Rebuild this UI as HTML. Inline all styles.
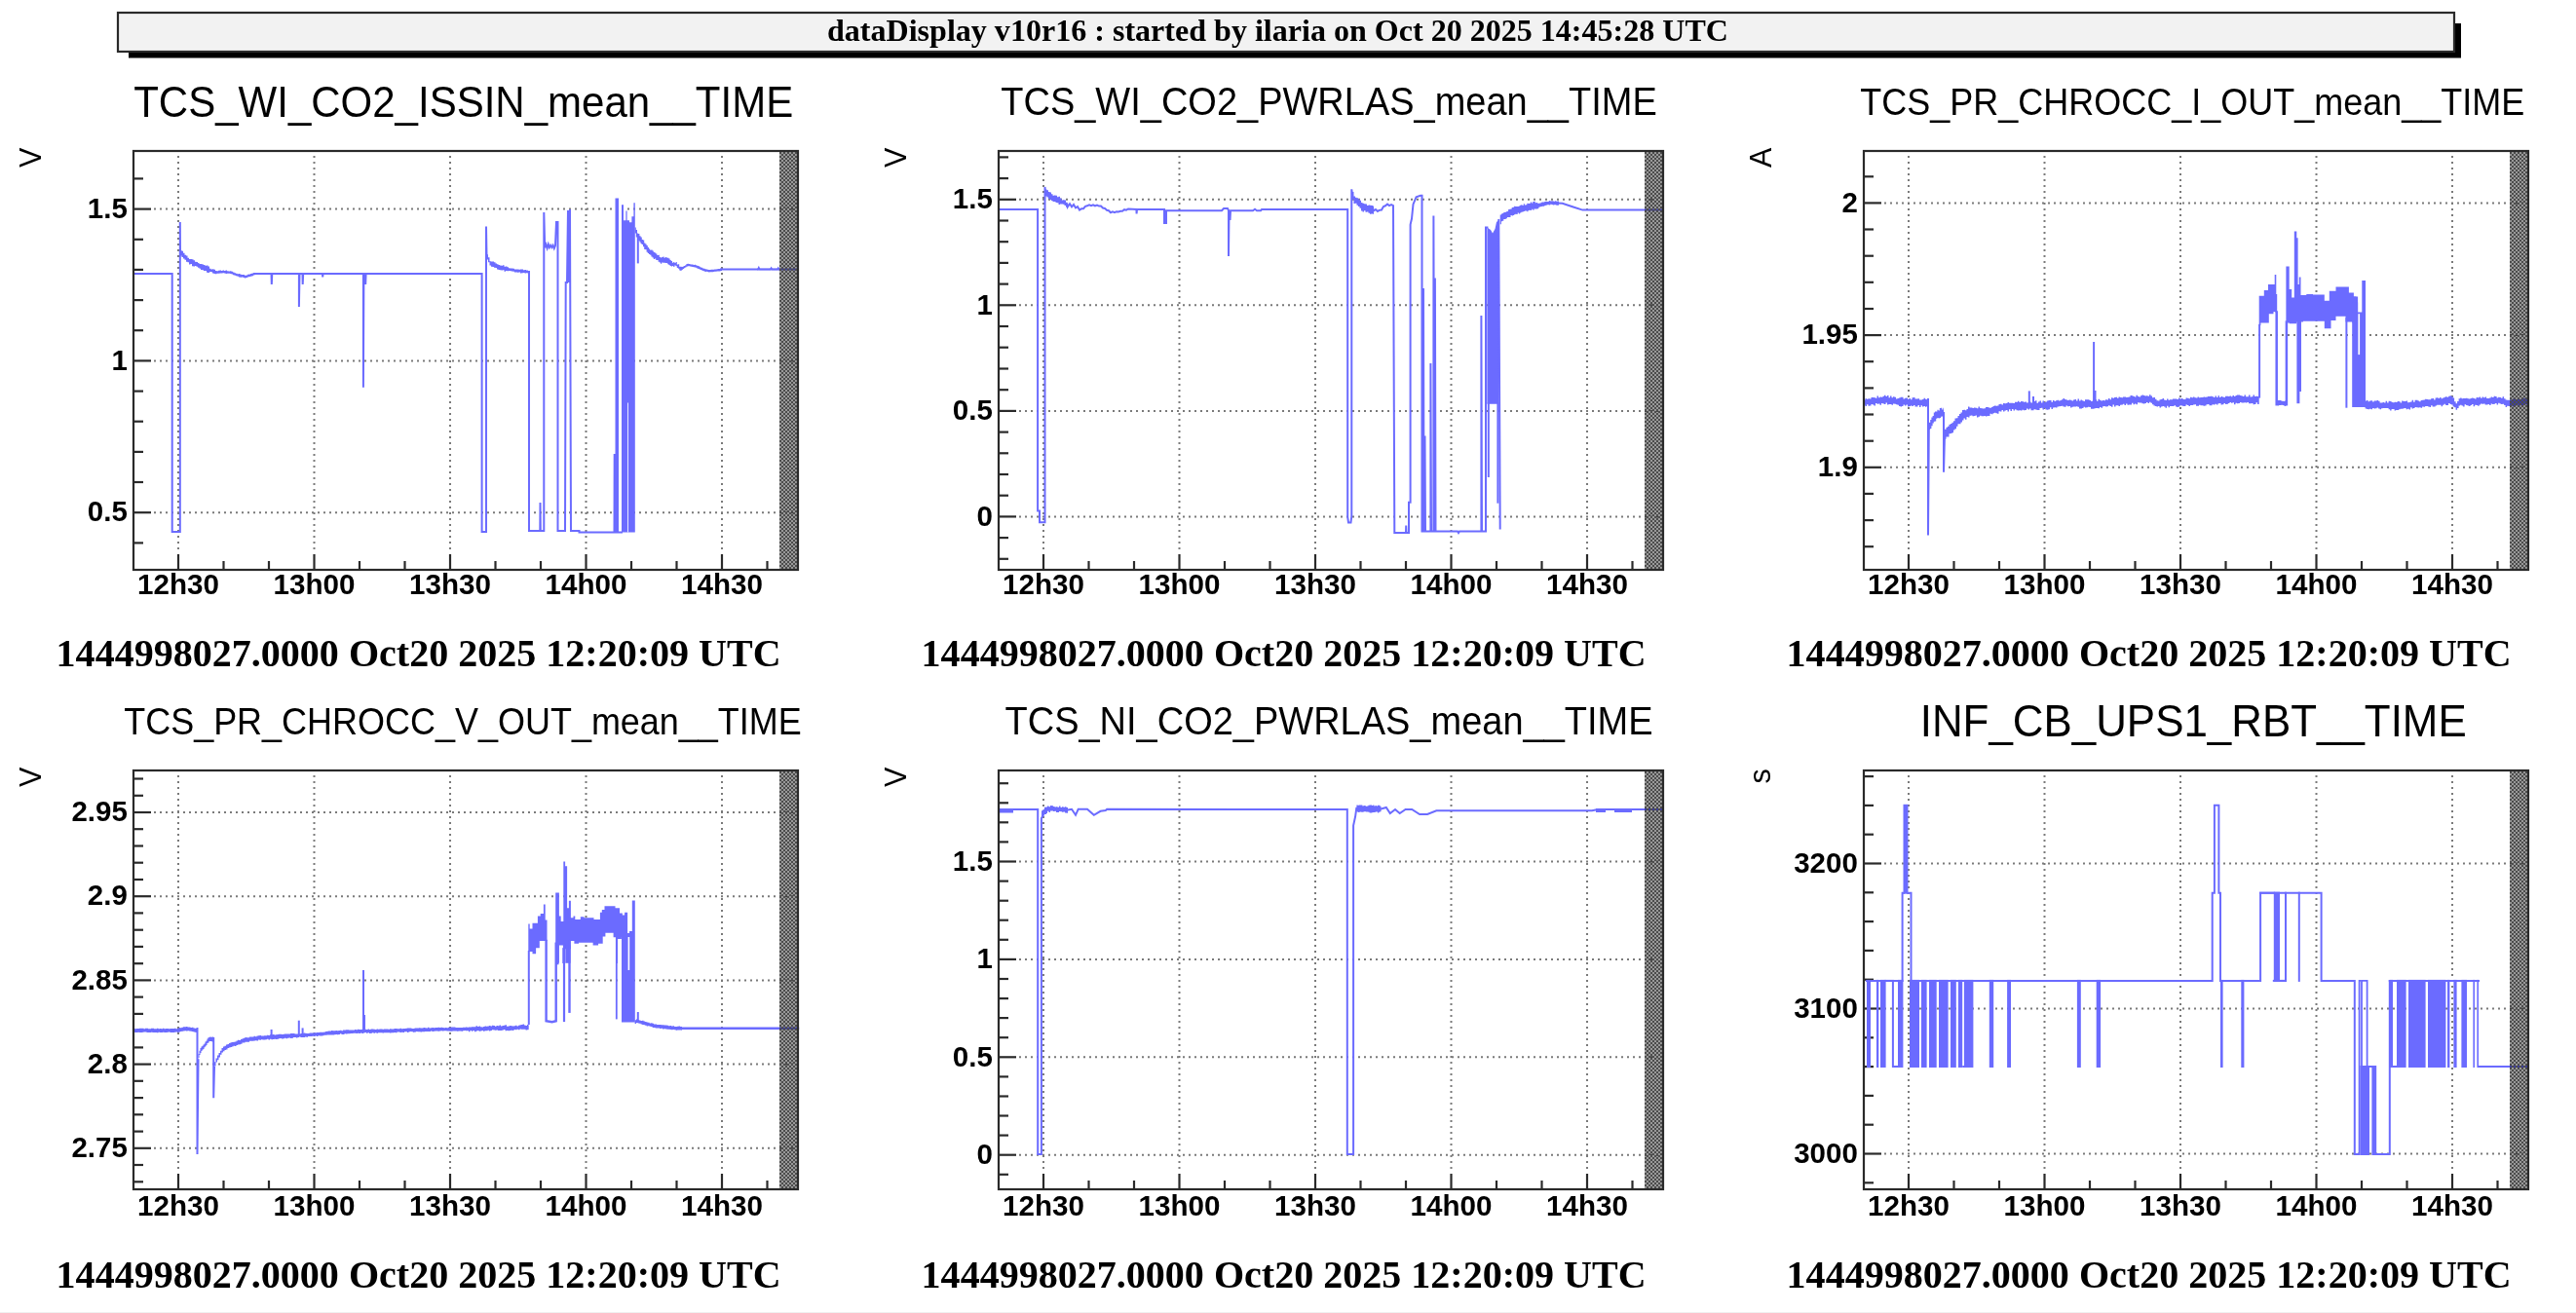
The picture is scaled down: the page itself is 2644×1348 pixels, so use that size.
<!DOCTYPE html><html><head><meta charset="utf-8"><style>html,body{margin:0;padding:0;background:#fff;}svg{display:block;filter:blur(0.45px)}</style></head><body>
<svg width="2644" height="1348" viewBox="0 0 2644 1348">
<defs><pattern id="hatch" width="4" height="4" patternUnits="userSpaceOnUse"><rect width="4" height="4" fill="rgba(0,0,0,0.40)"/><rect x="0" y="0" width="2" height="2" fill="#4c4c4c"/><rect x="2" y="2" width="2" height="2" fill="#4c4c4c"/></pattern></defs>
<rect width="2644" height="1348" fill="#fff"/><rect x="0" y="1347" width="2644" height="1" fill="#f0f0f0"/>
<rect x="132" y="24" width="2394" height="35.5" fill="#000"/>
<rect x="121" y="13" width="2398" height="40" fill="#f2f2f2" stroke="#2a2a2a" stroke-width="2.2"/>
<text x="1311.5" y="41.5" text-anchor="middle" textLength="925" lengthAdjust="spacingAndGlyphs" font-family="Liberation Serif" font-weight="bold" font-size="31.9" fill="#000">dataDisplay v10r16 : started by ilaria on Oct 20 2025 14:45:28 UTC</text>
<line x1="183.0" y1="160" x2="183.0" y2="568" stroke="#7a7a7a" stroke-width="2" stroke-dasharray="2 4"/>
<line x1="322.5" y1="160" x2="322.5" y2="568" stroke="#7a7a7a" stroke-width="2" stroke-dasharray="2 4"/>
<line x1="462.0" y1="160" x2="462.0" y2="568" stroke="#7a7a7a" stroke-width="2" stroke-dasharray="2 4"/>
<line x1="601.5" y1="160" x2="601.5" y2="568" stroke="#7a7a7a" stroke-width="2" stroke-dasharray="2 4"/>
<line x1="741.0" y1="160" x2="741.0" y2="568" stroke="#7a7a7a" stroke-width="2" stroke-dasharray="2 4"/>
<line x1="158" y1="214.6" x2="819" y2="214.6" stroke="#7a7a7a" stroke-width="2" stroke-dasharray="2 4"/>
<line x1="158" y1="370.4" x2="819" y2="370.4" stroke="#7a7a7a" stroke-width="2" stroke-dasharray="2 4"/>
<line x1="158" y1="526.2" x2="819" y2="526.2" stroke="#7a7a7a" stroke-width="2" stroke-dasharray="2 4"/>
<line x1="183.0" y1="585" x2="183.0" y2="569" stroke="#2a2a2a" stroke-width="2.2"/>
<line x1="229.5" y1="585" x2="229.5" y2="576" stroke="#2a2a2a" stroke-width="2.2"/>
<line x1="276.0" y1="585" x2="276.0" y2="576" stroke="#2a2a2a" stroke-width="2.2"/>
<line x1="322.5" y1="585" x2="322.5" y2="569" stroke="#2a2a2a" stroke-width="2.2"/>
<line x1="369.0" y1="585" x2="369.0" y2="576" stroke="#2a2a2a" stroke-width="2.2"/>
<line x1="415.5" y1="585" x2="415.5" y2="576" stroke="#2a2a2a" stroke-width="2.2"/>
<line x1="462.0" y1="585" x2="462.0" y2="569" stroke="#2a2a2a" stroke-width="2.2"/>
<line x1="508.5" y1="585" x2="508.5" y2="576" stroke="#2a2a2a" stroke-width="2.2"/>
<line x1="555.0" y1="585" x2="555.0" y2="576" stroke="#2a2a2a" stroke-width="2.2"/>
<line x1="601.5" y1="585" x2="601.5" y2="569" stroke="#2a2a2a" stroke-width="2.2"/>
<line x1="648.0" y1="585" x2="648.0" y2="576" stroke="#2a2a2a" stroke-width="2.2"/>
<line x1="694.5" y1="585" x2="694.5" y2="576" stroke="#2a2a2a" stroke-width="2.2"/>
<line x1="741.0" y1="585" x2="741.0" y2="569" stroke="#2a2a2a" stroke-width="2.2"/>
<line x1="787.5" y1="585" x2="787.5" y2="576" stroke="#2a2a2a" stroke-width="2.2"/>
<line x1="137" y1="557.4" x2="147" y2="557.4" stroke="#2a2a2a" stroke-width="2.2"/>
<line x1="137" y1="526.2" x2="155" y2="526.2" stroke="#2a2a2a" stroke-width="2.2"/>
<line x1="137" y1="495.0" x2="147" y2="495.0" stroke="#2a2a2a" stroke-width="2.2"/>
<line x1="137" y1="463.9" x2="147" y2="463.9" stroke="#2a2a2a" stroke-width="2.2"/>
<line x1="137" y1="432.7" x2="147" y2="432.7" stroke="#2a2a2a" stroke-width="2.2"/>
<line x1="137" y1="401.6" x2="147" y2="401.6" stroke="#2a2a2a" stroke-width="2.2"/>
<line x1="137" y1="370.4" x2="155" y2="370.4" stroke="#2a2a2a" stroke-width="2.2"/>
<line x1="137" y1="339.2" x2="147" y2="339.2" stroke="#2a2a2a" stroke-width="2.2"/>
<line x1="137" y1="308.1" x2="147" y2="308.1" stroke="#2a2a2a" stroke-width="2.2"/>
<line x1="137" y1="276.9" x2="147" y2="276.9" stroke="#2a2a2a" stroke-width="2.2"/>
<line x1="137" y1="245.8" x2="147" y2="245.8" stroke="#2a2a2a" stroke-width="2.2"/>
<line x1="137" y1="214.6" x2="155" y2="214.6" stroke="#2a2a2a" stroke-width="2.2"/>
<line x1="137" y1="183.4" x2="147" y2="183.4" stroke="#2a2a2a" stroke-width="2.2"/>
<text x="130.8" y="223.8" text-anchor="end" font-family="Liberation Sans" font-weight="bold" font-size="29.5" fill="#000">1.5</text>
<text x="130.8" y="379.6" text-anchor="end" font-family="Liberation Sans" font-weight="bold" font-size="29.5" fill="#000">1</text>
<text x="130.8" y="535.4" text-anchor="end" font-family="Liberation Sans" font-weight="bold" font-size="29.5" fill="#000">0.5</text>
<text x="183.0" y="610" text-anchor="middle" font-family="Liberation Sans" font-weight="bold" font-size="29.6" fill="#000">12h30</text>
<text x="322.5" y="610" text-anchor="middle" font-family="Liberation Sans" font-weight="bold" font-size="29.6" fill="#000">13h00</text>
<text x="462.0" y="610" text-anchor="middle" font-family="Liberation Sans" font-weight="bold" font-size="29.6" fill="#000">13h30</text>
<text x="601.5" y="610" text-anchor="middle" font-family="Liberation Sans" font-weight="bold" font-size="29.6" fill="#000">14h00</text>
<text x="741.0" y="610" text-anchor="middle" font-family="Liberation Sans" font-weight="bold" font-size="29.6" fill="#000">14h30</text>
<text transform="translate(41.8,151.7) rotate(-90)" text-anchor="end" font-family="Liberation Sans" font-size="30.5" fill="#000">V</text>
<text x="475.7" y="119.5" text-anchor="middle" textLength="677" lengthAdjust="spacingAndGlyphs" font-family="Liberation Sans" font-size="44.31" fill="#000">TCS_WI_CO2_ISSIN_mean__TIME</text>
<text x="429.6" y="684" text-anchor="middle" textLength="744" lengthAdjust="spacingAndGlyphs" font-family="Liberation Serif" font-weight="bold" font-size="41" fill="#000">1444998027.0000 Oct20 2025 12:20:09 UTC</text>
<line x1="1071.0" y1="160" x2="1071.0" y2="568" stroke="#7a7a7a" stroke-width="2" stroke-dasharray="2 4"/>
<line x1="1210.5" y1="160" x2="1210.5" y2="568" stroke="#7a7a7a" stroke-width="2" stroke-dasharray="2 4"/>
<line x1="1350.0" y1="160" x2="1350.0" y2="568" stroke="#7a7a7a" stroke-width="2" stroke-dasharray="2 4"/>
<line x1="1489.5" y1="160" x2="1489.5" y2="568" stroke="#7a7a7a" stroke-width="2" stroke-dasharray="2 4"/>
<line x1="1629.0" y1="160" x2="1629.0" y2="568" stroke="#7a7a7a" stroke-width="2" stroke-dasharray="2 4"/>
<line x1="1046" y1="204.8" x2="1707" y2="204.8" stroke="#7a7a7a" stroke-width="2" stroke-dasharray="2 4"/>
<line x1="1046" y1="313.3" x2="1707" y2="313.3" stroke="#7a7a7a" stroke-width="2" stroke-dasharray="2 4"/>
<line x1="1046" y1="421.9" x2="1707" y2="421.9" stroke="#7a7a7a" stroke-width="2" stroke-dasharray="2 4"/>
<line x1="1046" y1="530.4" x2="1707" y2="530.4" stroke="#7a7a7a" stroke-width="2" stroke-dasharray="2 4"/>
<line x1="1071.0" y1="585" x2="1071.0" y2="569" stroke="#2a2a2a" stroke-width="2.2"/>
<line x1="1117.5" y1="585" x2="1117.5" y2="576" stroke="#2a2a2a" stroke-width="2.2"/>
<line x1="1164.0" y1="585" x2="1164.0" y2="576" stroke="#2a2a2a" stroke-width="2.2"/>
<line x1="1210.5" y1="585" x2="1210.5" y2="569" stroke="#2a2a2a" stroke-width="2.2"/>
<line x1="1257.0" y1="585" x2="1257.0" y2="576" stroke="#2a2a2a" stroke-width="2.2"/>
<line x1="1303.5" y1="585" x2="1303.5" y2="576" stroke="#2a2a2a" stroke-width="2.2"/>
<line x1="1350.0" y1="585" x2="1350.0" y2="569" stroke="#2a2a2a" stroke-width="2.2"/>
<line x1="1396.5" y1="585" x2="1396.5" y2="576" stroke="#2a2a2a" stroke-width="2.2"/>
<line x1="1443.0" y1="585" x2="1443.0" y2="576" stroke="#2a2a2a" stroke-width="2.2"/>
<line x1="1489.5" y1="585" x2="1489.5" y2="569" stroke="#2a2a2a" stroke-width="2.2"/>
<line x1="1536.0" y1="585" x2="1536.0" y2="576" stroke="#2a2a2a" stroke-width="2.2"/>
<line x1="1582.5" y1="585" x2="1582.5" y2="576" stroke="#2a2a2a" stroke-width="2.2"/>
<line x1="1629.0" y1="585" x2="1629.0" y2="569" stroke="#2a2a2a" stroke-width="2.2"/>
<line x1="1675.5" y1="585" x2="1675.5" y2="576" stroke="#2a2a2a" stroke-width="2.2"/>
<line x1="1025" y1="573.8" x2="1035" y2="573.8" stroke="#2a2a2a" stroke-width="2.2"/>
<line x1="1025" y1="552.1" x2="1035" y2="552.1" stroke="#2a2a2a" stroke-width="2.2"/>
<line x1="1025" y1="530.4" x2="1043" y2="530.4" stroke="#2a2a2a" stroke-width="2.2"/>
<line x1="1025" y1="508.7" x2="1035" y2="508.7" stroke="#2a2a2a" stroke-width="2.2"/>
<line x1="1025" y1="487.0" x2="1035" y2="487.0" stroke="#2a2a2a" stroke-width="2.2"/>
<line x1="1025" y1="465.3" x2="1035" y2="465.3" stroke="#2a2a2a" stroke-width="2.2"/>
<line x1="1025" y1="443.6" x2="1035" y2="443.6" stroke="#2a2a2a" stroke-width="2.2"/>
<line x1="1025" y1="421.9" x2="1043" y2="421.9" stroke="#2a2a2a" stroke-width="2.2"/>
<line x1="1025" y1="400.2" x2="1035" y2="400.2" stroke="#2a2a2a" stroke-width="2.2"/>
<line x1="1025" y1="378.5" x2="1035" y2="378.5" stroke="#2a2a2a" stroke-width="2.2"/>
<line x1="1025" y1="356.7" x2="1035" y2="356.7" stroke="#2a2a2a" stroke-width="2.2"/>
<line x1="1025" y1="335.0" x2="1035" y2="335.0" stroke="#2a2a2a" stroke-width="2.2"/>
<line x1="1025" y1="313.3" x2="1043" y2="313.3" stroke="#2a2a2a" stroke-width="2.2"/>
<line x1="1025" y1="291.6" x2="1035" y2="291.6" stroke="#2a2a2a" stroke-width="2.2"/>
<line x1="1025" y1="269.9" x2="1035" y2="269.9" stroke="#2a2a2a" stroke-width="2.2"/>
<line x1="1025" y1="248.2" x2="1035" y2="248.2" stroke="#2a2a2a" stroke-width="2.2"/>
<line x1="1025" y1="226.5" x2="1035" y2="226.5" stroke="#2a2a2a" stroke-width="2.2"/>
<line x1="1025" y1="204.8" x2="1043" y2="204.8" stroke="#2a2a2a" stroke-width="2.2"/>
<line x1="1025" y1="183.1" x2="1035" y2="183.1" stroke="#2a2a2a" stroke-width="2.2"/>
<line x1="1025" y1="161.4" x2="1035" y2="161.4" stroke="#2a2a2a" stroke-width="2.2"/>
<text x="1018.8" y="214.0" text-anchor="end" font-family="Liberation Sans" font-weight="bold" font-size="29.5" fill="#000">1.5</text>
<text x="1018.8" y="322.5" text-anchor="end" font-family="Liberation Sans" font-weight="bold" font-size="29.5" fill="#000">1</text>
<text x="1018.8" y="431.1" text-anchor="end" font-family="Liberation Sans" font-weight="bold" font-size="29.5" fill="#000">0.5</text>
<text x="1018.8" y="539.6" text-anchor="end" font-family="Liberation Sans" font-weight="bold" font-size="29.5" fill="#000">0</text>
<text x="1071.0" y="610" text-anchor="middle" font-family="Liberation Sans" font-weight="bold" font-size="29.6" fill="#000">12h30</text>
<text x="1210.5" y="610" text-anchor="middle" font-family="Liberation Sans" font-weight="bold" font-size="29.6" fill="#000">13h00</text>
<text x="1350.0" y="610" text-anchor="middle" font-family="Liberation Sans" font-weight="bold" font-size="29.6" fill="#000">13h30</text>
<text x="1489.5" y="610" text-anchor="middle" font-family="Liberation Sans" font-weight="bold" font-size="29.6" fill="#000">14h00</text>
<text x="1629.0" y="610" text-anchor="middle" font-family="Liberation Sans" font-weight="bold" font-size="29.6" fill="#000">14h30</text>
<text transform="translate(929.8,151.7) rotate(-90)" text-anchor="end" font-family="Liberation Sans" font-size="30.5" fill="#000">V</text>
<text x="1364.0" y="117.6" text-anchor="middle" textLength="673.5" lengthAdjust="spacingAndGlyphs" font-family="Liberation Sans" font-size="40.07" fill="#000">TCS_WI_CO2_PWRLAS_mean__TIME</text>
<text x="1317.6" y="684" text-anchor="middle" textLength="744" lengthAdjust="spacingAndGlyphs" font-family="Liberation Serif" font-weight="bold" font-size="41" fill="#000">1444998027.0000 Oct20 2025 12:20:09 UTC</text>
<line x1="1959.0" y1="160" x2="1959.0" y2="568" stroke="#7a7a7a" stroke-width="2" stroke-dasharray="2 4"/>
<line x1="2098.5" y1="160" x2="2098.5" y2="568" stroke="#7a7a7a" stroke-width="2" stroke-dasharray="2 4"/>
<line x1="2238.0" y1="160" x2="2238.0" y2="568" stroke="#7a7a7a" stroke-width="2" stroke-dasharray="2 4"/>
<line x1="2377.5" y1="160" x2="2377.5" y2="568" stroke="#7a7a7a" stroke-width="2" stroke-dasharray="2 4"/>
<line x1="2517.0" y1="160" x2="2517.0" y2="568" stroke="#7a7a7a" stroke-width="2" stroke-dasharray="2 4"/>
<line x1="1934" y1="208.4" x2="2595" y2="208.4" stroke="#7a7a7a" stroke-width="2" stroke-dasharray="2 4"/>
<line x1="1934" y1="344.1" x2="2595" y2="344.1" stroke="#7a7a7a" stroke-width="2" stroke-dasharray="2 4"/>
<line x1="1934" y1="479.8" x2="2595" y2="479.8" stroke="#7a7a7a" stroke-width="2" stroke-dasharray="2 4"/>
<line x1="1959.0" y1="585" x2="1959.0" y2="569" stroke="#2a2a2a" stroke-width="2.2"/>
<line x1="2005.5" y1="585" x2="2005.5" y2="576" stroke="#2a2a2a" stroke-width="2.2"/>
<line x1="2052.0" y1="585" x2="2052.0" y2="576" stroke="#2a2a2a" stroke-width="2.2"/>
<line x1="2098.5" y1="585" x2="2098.5" y2="569" stroke="#2a2a2a" stroke-width="2.2"/>
<line x1="2145.0" y1="585" x2="2145.0" y2="576" stroke="#2a2a2a" stroke-width="2.2"/>
<line x1="2191.5" y1="585" x2="2191.5" y2="576" stroke="#2a2a2a" stroke-width="2.2"/>
<line x1="2238.0" y1="585" x2="2238.0" y2="569" stroke="#2a2a2a" stroke-width="2.2"/>
<line x1="2284.5" y1="585" x2="2284.5" y2="576" stroke="#2a2a2a" stroke-width="2.2"/>
<line x1="2331.0" y1="585" x2="2331.0" y2="576" stroke="#2a2a2a" stroke-width="2.2"/>
<line x1="2377.5" y1="585" x2="2377.5" y2="569" stroke="#2a2a2a" stroke-width="2.2"/>
<line x1="2424.0" y1="585" x2="2424.0" y2="576" stroke="#2a2a2a" stroke-width="2.2"/>
<line x1="2470.5" y1="585" x2="2470.5" y2="576" stroke="#2a2a2a" stroke-width="2.2"/>
<line x1="2517.0" y1="585" x2="2517.0" y2="569" stroke="#2a2a2a" stroke-width="2.2"/>
<line x1="2563.5" y1="585" x2="2563.5" y2="576" stroke="#2a2a2a" stroke-width="2.2"/>
<line x1="1913" y1="561.2" x2="1923" y2="561.2" stroke="#2a2a2a" stroke-width="2.2"/>
<line x1="1913" y1="534.1" x2="1923" y2="534.1" stroke="#2a2a2a" stroke-width="2.2"/>
<line x1="1913" y1="506.9" x2="1923" y2="506.9" stroke="#2a2a2a" stroke-width="2.2"/>
<line x1="1913" y1="479.8" x2="1931" y2="479.8" stroke="#2a2a2a" stroke-width="2.2"/>
<line x1="1913" y1="452.7" x2="1923" y2="452.7" stroke="#2a2a2a" stroke-width="2.2"/>
<line x1="1913" y1="425.5" x2="1923" y2="425.5" stroke="#2a2a2a" stroke-width="2.2"/>
<line x1="1913" y1="398.4" x2="1923" y2="398.4" stroke="#2a2a2a" stroke-width="2.2"/>
<line x1="1913" y1="371.2" x2="1923" y2="371.2" stroke="#2a2a2a" stroke-width="2.2"/>
<line x1="1913" y1="344.1" x2="1931" y2="344.1" stroke="#2a2a2a" stroke-width="2.2"/>
<line x1="1913" y1="317.0" x2="1923" y2="317.0" stroke="#2a2a2a" stroke-width="2.2"/>
<line x1="1913" y1="289.8" x2="1923" y2="289.8" stroke="#2a2a2a" stroke-width="2.2"/>
<line x1="1913" y1="262.7" x2="1923" y2="262.7" stroke="#2a2a2a" stroke-width="2.2"/>
<line x1="1913" y1="235.5" x2="1923" y2="235.5" stroke="#2a2a2a" stroke-width="2.2"/>
<line x1="1913" y1="208.4" x2="1931" y2="208.4" stroke="#2a2a2a" stroke-width="2.2"/>
<line x1="1913" y1="181.3" x2="1923" y2="181.3" stroke="#2a2a2a" stroke-width="2.2"/>
<text x="1906.8" y="217.6" text-anchor="end" font-family="Liberation Sans" font-weight="bold" font-size="29.5" fill="#000">2</text>
<text x="1906.8" y="353.3" text-anchor="end" font-family="Liberation Sans" font-weight="bold" font-size="29.5" fill="#000">1.95</text>
<text x="1906.8" y="489.0" text-anchor="end" font-family="Liberation Sans" font-weight="bold" font-size="29.5" fill="#000">1.9</text>
<text x="1959.0" y="610" text-anchor="middle" font-family="Liberation Sans" font-weight="bold" font-size="29.6" fill="#000">12h30</text>
<text x="2098.5" y="610" text-anchor="middle" font-family="Liberation Sans" font-weight="bold" font-size="29.6" fill="#000">13h00</text>
<text x="2238.0" y="610" text-anchor="middle" font-family="Liberation Sans" font-weight="bold" font-size="29.6" fill="#000">13h30</text>
<text x="2377.5" y="610" text-anchor="middle" font-family="Liberation Sans" font-weight="bold" font-size="29.6" fill="#000">14h00</text>
<text x="2517.0" y="610" text-anchor="middle" font-family="Liberation Sans" font-weight="bold" font-size="29.6" fill="#000">14h30</text>
<text transform="translate(1817.8,151.7) rotate(-90)" text-anchor="end" font-family="Liberation Sans" font-size="30.5" fill="#000">A</text>
<text x="2250.2" y="117.6" text-anchor="middle" textLength="682" lengthAdjust="spacingAndGlyphs" font-family="Liberation Sans" font-size="37.95" fill="#000">TCS_PR_CHROCC_I_OUT_mean__TIME</text>
<text x="2205.6" y="684" text-anchor="middle" textLength="744" lengthAdjust="spacingAndGlyphs" font-family="Liberation Serif" font-weight="bold" font-size="41" fill="#000">1444998027.0000 Oct20 2025 12:20:09 UTC</text>
<line x1="183.0" y1="796" x2="183.0" y2="1204" stroke="#7a7a7a" stroke-width="2" stroke-dasharray="2 4"/>
<line x1="322.5" y1="796" x2="322.5" y2="1204" stroke="#7a7a7a" stroke-width="2" stroke-dasharray="2 4"/>
<line x1="462.0" y1="796" x2="462.0" y2="1204" stroke="#7a7a7a" stroke-width="2" stroke-dasharray="2 4"/>
<line x1="601.5" y1="796" x2="601.5" y2="1204" stroke="#7a7a7a" stroke-width="2" stroke-dasharray="2 4"/>
<line x1="741.0" y1="796" x2="741.0" y2="1204" stroke="#7a7a7a" stroke-width="2" stroke-dasharray="2 4"/>
<line x1="158" y1="834.0" x2="819" y2="834.0" stroke="#7a7a7a" stroke-width="2" stroke-dasharray="2 4"/>
<line x1="158" y1="920.2" x2="819" y2="920.2" stroke="#7a7a7a" stroke-width="2" stroke-dasharray="2 4"/>
<line x1="158" y1="1006.4" x2="819" y2="1006.4" stroke="#7a7a7a" stroke-width="2" stroke-dasharray="2 4"/>
<line x1="158" y1="1092.6" x2="819" y2="1092.6" stroke="#7a7a7a" stroke-width="2" stroke-dasharray="2 4"/>
<line x1="158" y1="1178.8" x2="819" y2="1178.8" stroke="#7a7a7a" stroke-width="2" stroke-dasharray="2 4"/>
<line x1="183.0" y1="1221" x2="183.0" y2="1205" stroke="#2a2a2a" stroke-width="2.2"/>
<line x1="229.5" y1="1221" x2="229.5" y2="1212" stroke="#2a2a2a" stroke-width="2.2"/>
<line x1="276.0" y1="1221" x2="276.0" y2="1212" stroke="#2a2a2a" stroke-width="2.2"/>
<line x1="322.5" y1="1221" x2="322.5" y2="1205" stroke="#2a2a2a" stroke-width="2.2"/>
<line x1="369.0" y1="1221" x2="369.0" y2="1212" stroke="#2a2a2a" stroke-width="2.2"/>
<line x1="415.5" y1="1221" x2="415.5" y2="1212" stroke="#2a2a2a" stroke-width="2.2"/>
<line x1="462.0" y1="1221" x2="462.0" y2="1205" stroke="#2a2a2a" stroke-width="2.2"/>
<line x1="508.5" y1="1221" x2="508.5" y2="1212" stroke="#2a2a2a" stroke-width="2.2"/>
<line x1="555.0" y1="1221" x2="555.0" y2="1212" stroke="#2a2a2a" stroke-width="2.2"/>
<line x1="601.5" y1="1221" x2="601.5" y2="1205" stroke="#2a2a2a" stroke-width="2.2"/>
<line x1="648.0" y1="1221" x2="648.0" y2="1212" stroke="#2a2a2a" stroke-width="2.2"/>
<line x1="694.5" y1="1221" x2="694.5" y2="1212" stroke="#2a2a2a" stroke-width="2.2"/>
<line x1="741.0" y1="1221" x2="741.0" y2="1205" stroke="#2a2a2a" stroke-width="2.2"/>
<line x1="787.5" y1="1221" x2="787.5" y2="1212" stroke="#2a2a2a" stroke-width="2.2"/>
<line x1="137" y1="1213.3" x2="147" y2="1213.3" stroke="#2a2a2a" stroke-width="2.2"/>
<line x1="137" y1="1196.0" x2="147" y2="1196.0" stroke="#2a2a2a" stroke-width="2.2"/>
<line x1="137" y1="1178.8" x2="155" y2="1178.8" stroke="#2a2a2a" stroke-width="2.2"/>
<line x1="137" y1="1161.6" x2="147" y2="1161.6" stroke="#2a2a2a" stroke-width="2.2"/>
<line x1="137" y1="1144.3" x2="147" y2="1144.3" stroke="#2a2a2a" stroke-width="2.2"/>
<line x1="137" y1="1127.1" x2="147" y2="1127.1" stroke="#2a2a2a" stroke-width="2.2"/>
<line x1="137" y1="1109.8" x2="147" y2="1109.8" stroke="#2a2a2a" stroke-width="2.2"/>
<line x1="137" y1="1092.6" x2="155" y2="1092.6" stroke="#2a2a2a" stroke-width="2.2"/>
<line x1="137" y1="1075.4" x2="147" y2="1075.4" stroke="#2a2a2a" stroke-width="2.2"/>
<line x1="137" y1="1058.1" x2="147" y2="1058.1" stroke="#2a2a2a" stroke-width="2.2"/>
<line x1="137" y1="1040.9" x2="147" y2="1040.9" stroke="#2a2a2a" stroke-width="2.2"/>
<line x1="137" y1="1023.6" x2="147" y2="1023.6" stroke="#2a2a2a" stroke-width="2.2"/>
<line x1="137" y1="1006.4" x2="155" y2="1006.4" stroke="#2a2a2a" stroke-width="2.2"/>
<line x1="137" y1="989.2" x2="147" y2="989.2" stroke="#2a2a2a" stroke-width="2.2"/>
<line x1="137" y1="971.9" x2="147" y2="971.9" stroke="#2a2a2a" stroke-width="2.2"/>
<line x1="137" y1="954.7" x2="147" y2="954.7" stroke="#2a2a2a" stroke-width="2.2"/>
<line x1="137" y1="937.4" x2="147" y2="937.4" stroke="#2a2a2a" stroke-width="2.2"/>
<line x1="137" y1="920.2" x2="155" y2="920.2" stroke="#2a2a2a" stroke-width="2.2"/>
<line x1="137" y1="903.0" x2="147" y2="903.0" stroke="#2a2a2a" stroke-width="2.2"/>
<line x1="137" y1="885.7" x2="147" y2="885.7" stroke="#2a2a2a" stroke-width="2.2"/>
<line x1="137" y1="868.5" x2="147" y2="868.5" stroke="#2a2a2a" stroke-width="2.2"/>
<line x1="137" y1="851.2" x2="147" y2="851.2" stroke="#2a2a2a" stroke-width="2.2"/>
<line x1="137" y1="834.0" x2="155" y2="834.0" stroke="#2a2a2a" stroke-width="2.2"/>
<line x1="137" y1="816.8" x2="147" y2="816.8" stroke="#2a2a2a" stroke-width="2.2"/>
<line x1="137" y1="799.5" x2="147" y2="799.5" stroke="#2a2a2a" stroke-width="2.2"/>
<text x="130.8" y="843.2" text-anchor="end" font-family="Liberation Sans" font-weight="bold" font-size="29.5" fill="#000">2.95</text>
<text x="130.8" y="929.4" text-anchor="end" font-family="Liberation Sans" font-weight="bold" font-size="29.5" fill="#000">2.9</text>
<text x="130.8" y="1015.6" text-anchor="end" font-family="Liberation Sans" font-weight="bold" font-size="29.5" fill="#000">2.85</text>
<text x="130.8" y="1101.8" text-anchor="end" font-family="Liberation Sans" font-weight="bold" font-size="29.5" fill="#000">2.8</text>
<text x="130.8" y="1188.0" text-anchor="end" font-family="Liberation Sans" font-weight="bold" font-size="29.5" fill="#000">2.75</text>
<text x="183.0" y="1247.7" text-anchor="middle" font-family="Liberation Sans" font-weight="bold" font-size="29.6" fill="#000">12h30</text>
<text x="322.5" y="1247.7" text-anchor="middle" font-family="Liberation Sans" font-weight="bold" font-size="29.6" fill="#000">13h00</text>
<text x="462.0" y="1247.7" text-anchor="middle" font-family="Liberation Sans" font-weight="bold" font-size="29.6" fill="#000">13h30</text>
<text x="601.5" y="1247.7" text-anchor="middle" font-family="Liberation Sans" font-weight="bold" font-size="29.6" fill="#000">14h00</text>
<text x="741.0" y="1247.7" text-anchor="middle" font-family="Liberation Sans" font-weight="bold" font-size="29.6" fill="#000">14h30</text>
<text transform="translate(41.8,787.7) rotate(-90)" text-anchor="end" font-family="Liberation Sans" font-size="30.5" fill="#000">V</text>
<text x="475.0" y="753.5" text-anchor="middle" textLength="695.6" lengthAdjust="spacingAndGlyphs" font-family="Liberation Sans" font-size="37.95" fill="#000">TCS_PR_CHROCC_V_OUT_mean__TIME</text>
<text x="429.6" y="1321.6" text-anchor="middle" textLength="744" lengthAdjust="spacingAndGlyphs" font-family="Liberation Serif" font-weight="bold" font-size="41" fill="#000">1444998027.0000 Oct20 2025 12:20:09 UTC</text>
<line x1="1071.0" y1="796" x2="1071.0" y2="1204" stroke="#7a7a7a" stroke-width="2" stroke-dasharray="2 4"/>
<line x1="1210.5" y1="796" x2="1210.5" y2="1204" stroke="#7a7a7a" stroke-width="2" stroke-dasharray="2 4"/>
<line x1="1350.0" y1="796" x2="1350.0" y2="1204" stroke="#7a7a7a" stroke-width="2" stroke-dasharray="2 4"/>
<line x1="1489.5" y1="796" x2="1489.5" y2="1204" stroke="#7a7a7a" stroke-width="2" stroke-dasharray="2 4"/>
<line x1="1629.0" y1="796" x2="1629.0" y2="1204" stroke="#7a7a7a" stroke-width="2" stroke-dasharray="2 4"/>
<line x1="1046" y1="884.5" x2="1707" y2="884.5" stroke="#7a7a7a" stroke-width="2" stroke-dasharray="2 4"/>
<line x1="1046" y1="984.9" x2="1707" y2="984.9" stroke="#7a7a7a" stroke-width="2" stroke-dasharray="2 4"/>
<line x1="1046" y1="1085.3" x2="1707" y2="1085.3" stroke="#7a7a7a" stroke-width="2" stroke-dasharray="2 4"/>
<line x1="1046" y1="1185.7" x2="1707" y2="1185.7" stroke="#7a7a7a" stroke-width="2" stroke-dasharray="2 4"/>
<line x1="1071.0" y1="1221" x2="1071.0" y2="1205" stroke="#2a2a2a" stroke-width="2.2"/>
<line x1="1117.5" y1="1221" x2="1117.5" y2="1212" stroke="#2a2a2a" stroke-width="2.2"/>
<line x1="1164.0" y1="1221" x2="1164.0" y2="1212" stroke="#2a2a2a" stroke-width="2.2"/>
<line x1="1210.5" y1="1221" x2="1210.5" y2="1205" stroke="#2a2a2a" stroke-width="2.2"/>
<line x1="1257.0" y1="1221" x2="1257.0" y2="1212" stroke="#2a2a2a" stroke-width="2.2"/>
<line x1="1303.5" y1="1221" x2="1303.5" y2="1212" stroke="#2a2a2a" stroke-width="2.2"/>
<line x1="1350.0" y1="1221" x2="1350.0" y2="1205" stroke="#2a2a2a" stroke-width="2.2"/>
<line x1="1396.5" y1="1221" x2="1396.5" y2="1212" stroke="#2a2a2a" stroke-width="2.2"/>
<line x1="1443.0" y1="1221" x2="1443.0" y2="1212" stroke="#2a2a2a" stroke-width="2.2"/>
<line x1="1489.5" y1="1221" x2="1489.5" y2="1205" stroke="#2a2a2a" stroke-width="2.2"/>
<line x1="1536.0" y1="1221" x2="1536.0" y2="1212" stroke="#2a2a2a" stroke-width="2.2"/>
<line x1="1582.5" y1="1221" x2="1582.5" y2="1212" stroke="#2a2a2a" stroke-width="2.2"/>
<line x1="1629.0" y1="1221" x2="1629.0" y2="1205" stroke="#2a2a2a" stroke-width="2.2"/>
<line x1="1675.5" y1="1221" x2="1675.5" y2="1212" stroke="#2a2a2a" stroke-width="2.2"/>
<line x1="1025" y1="1205.8" x2="1035" y2="1205.8" stroke="#2a2a2a" stroke-width="2.2"/>
<line x1="1025" y1="1185.7" x2="1043" y2="1185.7" stroke="#2a2a2a" stroke-width="2.2"/>
<line x1="1025" y1="1165.6" x2="1035" y2="1165.6" stroke="#2a2a2a" stroke-width="2.2"/>
<line x1="1025" y1="1145.5" x2="1035" y2="1145.5" stroke="#2a2a2a" stroke-width="2.2"/>
<line x1="1025" y1="1125.5" x2="1035" y2="1125.5" stroke="#2a2a2a" stroke-width="2.2"/>
<line x1="1025" y1="1105.4" x2="1035" y2="1105.4" stroke="#2a2a2a" stroke-width="2.2"/>
<line x1="1025" y1="1085.3" x2="1043" y2="1085.3" stroke="#2a2a2a" stroke-width="2.2"/>
<line x1="1025" y1="1065.2" x2="1035" y2="1065.2" stroke="#2a2a2a" stroke-width="2.2"/>
<line x1="1025" y1="1045.1" x2="1035" y2="1045.1" stroke="#2a2a2a" stroke-width="2.2"/>
<line x1="1025" y1="1025.1" x2="1035" y2="1025.1" stroke="#2a2a2a" stroke-width="2.2"/>
<line x1="1025" y1="1005.0" x2="1035" y2="1005.0" stroke="#2a2a2a" stroke-width="2.2"/>
<line x1="1025" y1="984.9" x2="1043" y2="984.9" stroke="#2a2a2a" stroke-width="2.2"/>
<line x1="1025" y1="964.8" x2="1035" y2="964.8" stroke="#2a2a2a" stroke-width="2.2"/>
<line x1="1025" y1="944.7" x2="1035" y2="944.7" stroke="#2a2a2a" stroke-width="2.2"/>
<line x1="1025" y1="924.7" x2="1035" y2="924.7" stroke="#2a2a2a" stroke-width="2.2"/>
<line x1="1025" y1="904.6" x2="1035" y2="904.6" stroke="#2a2a2a" stroke-width="2.2"/>
<line x1="1025" y1="884.5" x2="1043" y2="884.5" stroke="#2a2a2a" stroke-width="2.2"/>
<line x1="1025" y1="864.4" x2="1035" y2="864.4" stroke="#2a2a2a" stroke-width="2.2"/>
<line x1="1025" y1="844.3" x2="1035" y2="844.3" stroke="#2a2a2a" stroke-width="2.2"/>
<line x1="1025" y1="824.3" x2="1035" y2="824.3" stroke="#2a2a2a" stroke-width="2.2"/>
<line x1="1025" y1="804.2" x2="1035" y2="804.2" stroke="#2a2a2a" stroke-width="2.2"/>
<text x="1018.8" y="893.7" text-anchor="end" font-family="Liberation Sans" font-weight="bold" font-size="29.5" fill="#000">1.5</text>
<text x="1018.8" y="994.1" text-anchor="end" font-family="Liberation Sans" font-weight="bold" font-size="29.5" fill="#000">1</text>
<text x="1018.8" y="1094.5" text-anchor="end" font-family="Liberation Sans" font-weight="bold" font-size="29.5" fill="#000">0.5</text>
<text x="1018.8" y="1194.9" text-anchor="end" font-family="Liberation Sans" font-weight="bold" font-size="29.5" fill="#000">0</text>
<text x="1071.0" y="1247.7" text-anchor="middle" font-family="Liberation Sans" font-weight="bold" font-size="29.6" fill="#000">12h30</text>
<text x="1210.5" y="1247.7" text-anchor="middle" font-family="Liberation Sans" font-weight="bold" font-size="29.6" fill="#000">13h00</text>
<text x="1350.0" y="1247.7" text-anchor="middle" font-family="Liberation Sans" font-weight="bold" font-size="29.6" fill="#000">13h30</text>
<text x="1489.5" y="1247.7" text-anchor="middle" font-family="Liberation Sans" font-weight="bold" font-size="29.6" fill="#000">14h00</text>
<text x="1629.0" y="1247.7" text-anchor="middle" font-family="Liberation Sans" font-weight="bold" font-size="29.6" fill="#000">14h30</text>
<text transform="translate(929.8,787.7) rotate(-90)" text-anchor="end" font-family="Liberation Sans" font-size="30.5" fill="#000">V</text>
<text x="1364.0" y="753.5" text-anchor="middle" textLength="665" lengthAdjust="spacingAndGlyphs" font-family="Liberation Sans" font-size="40.07" fill="#000">TCS_NI_CO2_PWRLAS_mean__TIME</text>
<text x="1317.6" y="1321.6" text-anchor="middle" textLength="744" lengthAdjust="spacingAndGlyphs" font-family="Liberation Serif" font-weight="bold" font-size="41" fill="#000">1444998027.0000 Oct20 2025 12:20:09 UTC</text>
<line x1="1959.0" y1="796" x2="1959.0" y2="1204" stroke="#7a7a7a" stroke-width="2" stroke-dasharray="2 4"/>
<line x1="2098.5" y1="796" x2="2098.5" y2="1204" stroke="#7a7a7a" stroke-width="2" stroke-dasharray="2 4"/>
<line x1="2238.0" y1="796" x2="2238.0" y2="1204" stroke="#7a7a7a" stroke-width="2" stroke-dasharray="2 4"/>
<line x1="2377.5" y1="796" x2="2377.5" y2="1204" stroke="#7a7a7a" stroke-width="2" stroke-dasharray="2 4"/>
<line x1="2517.0" y1="796" x2="2517.0" y2="1204" stroke="#7a7a7a" stroke-width="2" stroke-dasharray="2 4"/>
<line x1="1934" y1="886.5" x2="2595" y2="886.5" stroke="#7a7a7a" stroke-width="2" stroke-dasharray="2 4"/>
<line x1="1934" y1="1035.5" x2="2595" y2="1035.5" stroke="#7a7a7a" stroke-width="2" stroke-dasharray="2 4"/>
<line x1="1934" y1="1184.5" x2="2595" y2="1184.5" stroke="#7a7a7a" stroke-width="2" stroke-dasharray="2 4"/>
<line x1="1959.0" y1="1221" x2="1959.0" y2="1205" stroke="#2a2a2a" stroke-width="2.2"/>
<line x1="2005.5" y1="1221" x2="2005.5" y2="1212" stroke="#2a2a2a" stroke-width="2.2"/>
<line x1="2052.0" y1="1221" x2="2052.0" y2="1212" stroke="#2a2a2a" stroke-width="2.2"/>
<line x1="2098.5" y1="1221" x2="2098.5" y2="1205" stroke="#2a2a2a" stroke-width="2.2"/>
<line x1="2145.0" y1="1221" x2="2145.0" y2="1212" stroke="#2a2a2a" stroke-width="2.2"/>
<line x1="2191.5" y1="1221" x2="2191.5" y2="1212" stroke="#2a2a2a" stroke-width="2.2"/>
<line x1="2238.0" y1="1221" x2="2238.0" y2="1205" stroke="#2a2a2a" stroke-width="2.2"/>
<line x1="2284.5" y1="1221" x2="2284.5" y2="1212" stroke="#2a2a2a" stroke-width="2.2"/>
<line x1="2331.0" y1="1221" x2="2331.0" y2="1212" stroke="#2a2a2a" stroke-width="2.2"/>
<line x1="2377.5" y1="1221" x2="2377.5" y2="1205" stroke="#2a2a2a" stroke-width="2.2"/>
<line x1="2424.0" y1="1221" x2="2424.0" y2="1212" stroke="#2a2a2a" stroke-width="2.2"/>
<line x1="2470.5" y1="1221" x2="2470.5" y2="1212" stroke="#2a2a2a" stroke-width="2.2"/>
<line x1="2517.0" y1="1221" x2="2517.0" y2="1205" stroke="#2a2a2a" stroke-width="2.2"/>
<line x1="2563.5" y1="1221" x2="2563.5" y2="1212" stroke="#2a2a2a" stroke-width="2.2"/>
<line x1="1913" y1="1214.3" x2="1923" y2="1214.3" stroke="#2a2a2a" stroke-width="2.2"/>
<line x1="1913" y1="1184.5" x2="1931" y2="1184.5" stroke="#2a2a2a" stroke-width="2.2"/>
<line x1="1913" y1="1154.7" x2="1923" y2="1154.7" stroke="#2a2a2a" stroke-width="2.2"/>
<line x1="1913" y1="1124.9" x2="1923" y2="1124.9" stroke="#2a2a2a" stroke-width="2.2"/>
<line x1="1913" y1="1095.1" x2="1923" y2="1095.1" stroke="#2a2a2a" stroke-width="2.2"/>
<line x1="1913" y1="1065.3" x2="1923" y2="1065.3" stroke="#2a2a2a" stroke-width="2.2"/>
<line x1="1913" y1="1035.5" x2="1931" y2="1035.5" stroke="#2a2a2a" stroke-width="2.2"/>
<line x1="1913" y1="1005.7" x2="1923" y2="1005.7" stroke="#2a2a2a" stroke-width="2.2"/>
<line x1="1913" y1="975.9" x2="1923" y2="975.9" stroke="#2a2a2a" stroke-width="2.2"/>
<line x1="1913" y1="946.1" x2="1923" y2="946.1" stroke="#2a2a2a" stroke-width="2.2"/>
<line x1="1913" y1="916.3" x2="1923" y2="916.3" stroke="#2a2a2a" stroke-width="2.2"/>
<line x1="1913" y1="886.5" x2="1931" y2="886.5" stroke="#2a2a2a" stroke-width="2.2"/>
<line x1="1913" y1="856.7" x2="1923" y2="856.7" stroke="#2a2a2a" stroke-width="2.2"/>
<line x1="1913" y1="826.9" x2="1923" y2="826.9" stroke="#2a2a2a" stroke-width="2.2"/>
<line x1="1913" y1="797.1" x2="1923" y2="797.1" stroke="#2a2a2a" stroke-width="2.2"/>
<text x="1906.8" y="895.7" text-anchor="end" font-family="Liberation Sans" font-weight="bold" font-size="29.5" fill="#000">3200</text>
<text x="1906.8" y="1044.7" text-anchor="end" font-family="Liberation Sans" font-weight="bold" font-size="29.5" fill="#000">3100</text>
<text x="1906.8" y="1193.7" text-anchor="end" font-family="Liberation Sans" font-weight="bold" font-size="29.5" fill="#000">3000</text>
<text x="1959.0" y="1247.7" text-anchor="middle" font-family="Liberation Sans" font-weight="bold" font-size="29.6" fill="#000">12h30</text>
<text x="2098.5" y="1247.7" text-anchor="middle" font-family="Liberation Sans" font-weight="bold" font-size="29.6" fill="#000">13h00</text>
<text x="2238.0" y="1247.7" text-anchor="middle" font-family="Liberation Sans" font-weight="bold" font-size="29.6" fill="#000">13h30</text>
<text x="2377.5" y="1247.7" text-anchor="middle" font-family="Liberation Sans" font-weight="bold" font-size="29.6" fill="#000">14h00</text>
<text x="2517.0" y="1247.7" text-anchor="middle" font-family="Liberation Sans" font-weight="bold" font-size="29.6" fill="#000">14h30</text>
<text transform="translate(1816.6,789.2) rotate(-90)" text-anchor="end" font-family="Liberation Sans" font-size="30.5" fill="#000">s</text>
<text x="2251.2" y="755.5" text-anchor="middle" textLength="561" lengthAdjust="spacingAndGlyphs" font-family="Liberation Sans" font-size="46.00" fill="#000">INF_CB_UPS1_RBT__TIME</text>
<text x="2205.6" y="1321.6" text-anchor="middle" textLength="744" lengthAdjust="spacingAndGlyphs" font-family="Liberation Serif" font-weight="bold" font-size="41" fill="#000">1444998027.0000 Oct20 2025 12:20:09 UTC</text>
<g><polyline points="137.0,281.0 176.7,281.0 176.7,546.0 184.8,546.0 184.8,228.0 185.0,259.0" fill="none" stroke="#6b6bff" stroke-width="2.0" stroke-linejoin="miter" stroke-linecap="square"/>
<polyline points="261.5,281.0 278.5,281.0 278.8,292.0 279.3,281.0 306.9,281.0 306.9,315.0 307.5,281.0 310.5,281.0 310.7,292.0 311.2,281.0 331.0,281.0 331.2,284.5 331.6,281.0 372.9,281.0 372.9,397.7 373.4,281.0 375.0,281.0 375.2,292.0 375.6,281.0 494.6,281.0 494.6,546.0 499.0,546.0 499.0,232.4 499.5,262.0" fill="none" stroke="#6b6bff" stroke-width="2.0" stroke-linejoin="miter" stroke-linecap="square"/>
<polyline points="542.0,279.0 543.0,279.0 543.0,545.0 554.3,545.0 554.5,516.0 554.8,545.0 558.3,545.0 558.3,218.0 559.2,253.0 559.2,254.2 560.4,251.1 561.6,254.9 562.8,250.8 564.0,254.1 565.2,251.8 566.4,254.0 567.6,251.9 568.8,255.0 570.0,252.0 571.0,228.0 572.5,228.0 572.5,545.0 580.0,545.0 580.7,290.0 582.0,290.0 583.0,216.0 584.0,290.0 585.0,215.0 586.0,545.0 594.5,545.0 594.5,546.5 630.5,546.5 630.7,466.0 631.2,546.5 632.5,546.5 632.5,204.5 634.0,204.5 634.0,546.5 638.0,546.5" fill="none" stroke="#6b6bff" stroke-width="2.0" stroke-linejoin="miter" stroke-linecap="square"/>
<polygon points="185.0,257.0 186.5,257.0 186.5,257.7 188.0,257.7 188.0,259.7 189.5,259.7 189.5,261.7 191.0,261.7 191.0,262.4 192.5,262.4 192.5,264.7 194.0,264.7 194.0,266.1 195.5,266.1 195.5,265.9 197.0,265.9 197.0,266.2 198.5,266.2 198.5,267.3 200.0,267.3 200.0,268.8 201.5,268.8 201.5,268.9 203.0,268.9 203.0,270.1 204.5,270.1 204.5,271.0 206.0,271.0 206.0,270.9 207.5,270.9 207.5,271.4 209.0,271.4 209.0,272.1 210.5,272.1 210.5,272.8 212.0,272.8 212.0,272.5 213.5,272.5 213.5,273.4 215.0,273.4 215.0,275.8 216.5,275.8 216.5,276.5 218.0,276.5 218.0,276.3 219.5,276.3 219.5,276.8 221.0,276.8 221.0,277.9 222.5,277.9 222.5,278.3 224.0,278.3 224.0,277.7 225.5,277.7 225.5,277.5 227.0,277.5 227.0,278.0 228.5,278.0 228.5,277.5 230.0,277.5 230.0,278.0 231.5,278.0 231.5,277.6 233.0,277.6 233.0,278.3 234.5,278.3 234.5,278.5 236.0,278.5 236.0,278.3 237.5,278.3 237.5,278.7 239.0,278.7 239.0,279.5 240.5,279.5 240.5,280.2 242.0,280.2 242.0,280.8 243.5,280.8 243.5,281.3 245.0,281.3 245.0,281.1 246.5,281.1 246.5,281.8 248.0,281.8 248.0,282.1 249.5,282.1 249.5,282.0 251.0,282.0 251.0,282.7 252.5,282.7 252.5,282.6 254.0,282.6 254.0,281.8 255.5,281.8 255.5,281.5 257.0,281.5 257.0,281.1 258.5,281.1 258.5,280.5 260.0,280.5 260.0,279.9 261.5,279.9 261.5,282.6 260.0,282.6 260.0,283.2 258.5,283.2 258.5,283.7 257.0,283.7 257.0,284.0 255.5,284.0 255.5,284.6 254.0,284.6 254.0,285.1 252.5,285.1 252.5,285.5 251.0,285.5 251.0,285.1 249.5,285.1 249.5,284.6 248.0,284.6 248.0,284.7 246.5,284.7 246.5,284.4 245.0,284.4 245.0,283.8 243.5,283.8 243.5,283.3 242.0,283.3 242.0,282.8 240.5,282.8 240.5,282.3 239.0,282.3 239.0,281.5 237.5,281.5 237.5,281.1 236.0,281.1 236.0,280.8 234.5,280.8 234.5,280.7 233.0,280.7 233.0,280.9 231.5,280.9 231.5,280.4 230.0,280.4 230.0,280.3 228.5,280.3 228.5,280.6 227.0,280.6 227.0,280.6 225.5,280.6 225.5,280.7 224.0,280.7 224.0,280.7 222.5,280.7 222.5,281.2 221.0,281.2 221.0,281.0 219.5,281.0 219.5,280.4 218.0,280.4 218.0,279.2 216.5,279.2 216.5,278.9 215.0,278.9 215.0,279.9 213.5,279.9 213.5,279.7 212.0,279.7 212.0,277.9 210.5,277.9 210.5,277.9 209.0,277.9 209.0,277.3 207.5,277.3 207.5,277.0 206.0,277.0 206.0,275.8 204.5,275.8 204.5,274.8 203.0,274.8 203.0,273.8 201.5,273.8 201.5,273.1 200.0,273.1 200.0,273.4 198.5,273.4 198.5,273.3 197.0,273.3 197.0,271.1 195.5,271.1 195.5,271.6 194.0,271.6 194.0,269.3 192.5,269.3 192.5,268.7 191.0,268.7 191.0,266.8 189.5,266.8 189.5,265.5 188.0,265.5 188.0,263.9 186.5,263.9 186.5,262.6 185.0,262.6" fill="#6b6bff"/>
<polygon points="499.5,261.2 501.0,261.2 501.0,264.3 502.5,264.3 502.5,268.3 504.0,268.3 504.0,268.5 505.5,268.5 505.5,268.5 507.0,268.5 507.0,269.3 508.5,269.3 508.5,270.6 510.0,270.6 510.0,271.2 511.5,271.2 511.5,272.0 513.0,272.0 513.0,272.6 514.5,272.6 514.5,272.7 516.0,272.7 516.0,272.3 517.5,272.3 517.5,273.8 519.0,273.8 519.0,273.4 520.5,273.4 520.5,274.3 522.0,274.3 522.0,275.3 523.5,275.3 523.5,275.5 525.0,275.5 525.0,275.5 526.5,275.5 526.5,275.7 528.0,275.7 528.0,276.4 529.5,276.4 529.5,276.5 531.0,276.5 531.0,276.5 532.5,276.5 532.5,276.8 534.0,276.8 534.0,276.6 535.5,276.6 535.5,276.5 537.0,276.5 537.0,277.2 538.5,277.2 538.5,277.0 540.0,277.0 540.0,277.6 541.5,277.6 541.5,277.5 542.0,277.5 542.0,280.6 541.5,280.6 541.5,280.3 540.0,280.3 540.0,280.5 538.5,280.5 538.5,280.1 537.0,280.1 537.0,280.3 535.5,280.3 535.5,280.4 534.0,280.4 534.0,279.5 532.5,279.5 532.5,279.7 531.0,279.7 531.0,279.6 529.5,279.6 529.5,279.6 528.0,279.6 528.0,278.7 526.5,278.7 526.5,278.5 525.0,278.5 525.0,278.3 523.5,278.3 523.5,278.1 522.0,278.1 522.0,278.2 520.5,278.2 520.5,277.9 519.0,277.9 519.0,278.8 517.5,278.8 517.5,277.2 516.0,277.2 516.0,277.5 514.5,277.5 514.5,277.3 513.0,277.3 513.0,276.9 511.5,276.9 511.5,276.4 510.0,276.4 510.0,275.1 508.5,275.1 508.5,274.8 507.0,274.8 507.0,274.1 505.5,274.1 505.5,273.7 504.0,273.7 504.0,272.5 502.5,272.5 502.5,269.2 501.0,269.2 501.0,266.5 499.5,266.5" fill="#6b6bff"/>
<polygon points="638.0,210.2 640.0,210.2 640.0,226.2 642.4,226.2 642.4,216.6 643.6,216.6 643.6,226.2 646.0,226.2 646.0,228.2 648.4,228.2 648.4,222.2 650.4,222.2 650.4,208.2 651.8,208.2 651.8,546.5 638.0,546.5" fill="#6b6bff"/>
<polyline points="644.5,414.0 644.5,546.0" fill="none" stroke="#e6e6ff" stroke-width="1.0" stroke-linejoin="miter" stroke-linecap="square"/>
<polygon points="651.6,233.4 652.8,233.4 652.8,236.1 654.0,236.1 654.0,239.4 655.2,239.4 655.2,240.0 656.4,240.0 656.4,242.2 657.6,242.2 657.6,243.6 658.8,243.6 658.8,246.0 660.0,246.0 660.0,246.5 661.2,246.5 661.2,249.6 662.4,249.6 662.4,250.4 663.6,250.4 663.6,252.0 664.8,252.0 664.8,254.1 666.0,254.1 666.0,255.5 667.2,255.5 667.2,256.8 668.4,256.8 668.4,256.4 669.6,256.4 669.6,257.5 670.8,257.5 670.8,258.9 672.0,258.9 672.0,259.5 673.2,259.5 673.2,260.4 674.4,260.4 674.4,262.0 675.6,262.0 675.6,261.7 676.8,261.7 676.8,263.9 678.0,263.9 678.0,264.4 679.2,264.4 679.2,264.0 680.4,264.0 680.4,263.6 681.6,263.6 681.6,264.7 682.8,264.7 682.8,264.0 684.0,264.0 684.0,264.5 685.2,264.5 685.2,264.7 686.4,264.7 686.4,265.6 687.6,265.6 687.6,266.9 688.8,266.9 688.8,267.9 690.0,267.9 690.0,269.8 691.2,269.8 691.2,268.9 692.4,268.9 692.4,270.1 693.6,270.1 693.6,269.0 694.8,269.0 694.8,271.6 696.0,271.6 696.0,271.3 697.2,271.3 697.2,273.8 698.4,273.8 698.4,273.8 699.6,273.8 699.6,274.1 700.8,274.1 700.8,273.6 702.0,273.6 702.0,272.9 703.2,272.9 703.2,272.2 704.4,272.2 704.4,271.0 705.6,271.0 705.6,270.7 706.8,270.7 706.8,270.9 708.0,270.9 708.0,271.3 709.2,271.3 709.2,271.5 710.4,271.5 710.4,271.4 711.6,271.4 711.6,271.9 712.8,271.9 712.8,271.8 714.0,271.8 714.0,272.3 715.2,272.3 715.2,272.8 716.4,272.8 716.4,273.1 717.6,273.1 717.6,273.8 718.8,273.8 718.8,274.5 720.0,274.5 720.0,274.8 721.2,274.8 721.2,275.5 722.4,275.5 722.4,275.7 723.6,275.7 723.6,276.3 724.8,276.3 724.8,276.4 726.0,276.4 726.0,276.7 727.2,276.7 727.2,277.0 728.4,277.0 728.4,277.1 729.6,277.1 729.6,276.8 730.8,276.8 730.8,276.8 732.0,276.8 732.0,276.7 733.2,276.7 733.2,276.5 734.4,276.5 734.4,276.5 735.6,276.5 735.6,276.2 736.8,276.2 736.8,276.1 738.0,276.1 738.0,275.9 739.2,275.9 739.2,275.6 740.4,275.6 740.4,275.3 741.0,275.3 741.0,277.9 740.4,277.9 740.4,278.3 739.2,278.3 739.2,278.5 738.0,278.5 738.0,278.6 736.8,278.6 736.8,278.6 735.6,278.6 735.6,278.7 734.4,278.7 734.4,278.8 733.2,278.8 733.2,279.0 732.0,279.0 732.0,279.3 730.8,279.3 730.8,279.3 729.6,279.3 729.6,279.3 728.4,279.3 728.4,279.4 727.2,279.4 727.2,278.9 726.0,278.9 726.0,278.8 724.8,278.8 724.8,278.9 723.6,278.9 723.6,278.5 722.4,278.5 722.4,278.1 721.2,278.1 721.2,277.6 720.0,277.6 720.0,276.9 718.8,276.9 718.8,276.5 717.6,276.5 717.6,276.0 716.4,276.0 716.4,275.4 715.2,275.4 715.2,274.8 714.0,274.8 714.0,274.4 712.8,274.4 712.8,274.3 711.6,274.3 711.6,273.9 710.4,273.9 710.4,273.7 709.2,273.7 709.2,273.4 708.0,273.4 708.0,273.2 706.8,273.2 706.8,273.3 705.6,273.3 705.6,273.8 704.4,273.8 704.4,274.4 703.2,274.4 703.2,275.3 702.0,275.3 702.0,276.1 700.8,276.1 700.8,277.0 699.6,277.0 699.6,277.9 698.4,277.9 698.4,277.5 697.2,277.5 697.2,275.8 696.0,275.8 696.0,274.9 694.8,274.9 694.8,273.3 693.6,273.3 693.6,272.5 692.4,272.5 692.4,274.1 691.2,274.1 691.2,273.1 690.0,273.1 690.0,273.6 688.8,273.6 688.8,273.0 687.6,273.0 687.6,271.9 686.4,271.9 686.4,271.3 685.2,271.3 685.2,270.1 684.0,270.1 684.0,270.0 682.8,270.0 682.8,269.7 681.6,269.7 681.6,269.7 680.4,269.7 680.4,269.6 679.2,269.6 679.2,270.7 678.0,270.7 678.0,269.6 676.8,269.6 676.8,268.7 675.6,268.7 675.6,267.0 674.4,267.0 674.4,267.1 673.2,267.1 673.2,265.4 672.0,265.4 672.0,266.1 670.8,266.1 670.8,264.6 669.6,264.6 669.6,263.4 668.4,263.4 668.4,261.8 667.2,261.8 667.2,260.9 666.0,260.9 666.0,260.1 664.8,260.1 664.8,258.7 663.6,258.7 663.6,256.3 662.4,256.3 662.4,256.0 661.2,256.0 661.2,253.3 660.0,253.3 660.0,251.1 658.8,251.1 658.8,250.2 657.6,250.2 657.6,248.5 656.4,248.5 656.4,247.0 655.2,247.0 655.2,244.8 654.0,244.8 654.0,243.5 652.8,243.5 652.8,239.4 651.6,239.4" fill="#6b6bff"/>
<polyline points="654.8,241.0 654.8,269.4" fill="none" stroke="#6b6bff" stroke-width="2.0" stroke-linejoin="miter" stroke-linecap="square"/>
<polyline points="740.4,276.6 819.0,276.6" fill="none" stroke="#6b6bff" stroke-width="2.0" stroke-linejoin="miter" stroke-linecap="square"/>
<polyline points="777.8,276.6 778.8,274.5 779.8,276.6 790.6,276.6 791.6,275.0 792.6,276.6 797.8,276.6 798.8,275.0 799.8,276.6" fill="none" stroke="#6b6bff" stroke-width="1.5" stroke-linejoin="miter" stroke-linecap="square"/>
<polyline points="1025.0,215.0 1065.1,215.0 1065.1,524.4 1067.0,524.4 1067.0,536.3 1072.5,536.3 1072.5,191.9 1073.0,197.0" fill="none" stroke="#6b6bff" stroke-width="2.0" stroke-linejoin="miter" stroke-linecap="square"/>
<polyline points="1096.0,210.5 1096.0,212.1 1098.0,209.2 1100.0,212.4 1102.0,210.0 1104.0,213.4 1106.0,212.1 1108.0,215.6 1110.0,214.3 1112.0,214.2 1114.0,211.8 1116.0,211.3 1118.0,210.3 1120.0,211.2 1122.0,210.3 1124.0,211.4 1126.0,210.6 1128.0,211.6 1130.0,211.5 1132.0,213.5 1134.0,213.9 1136.0,215.8 1138.0,216.2 1140.0,218.2 1142.0,217.3 1144.0,218.1 1146.0,217.2 1148.0,217.5 1150.0,216.7 1152.0,216.7 1154.0,215.2 1156.0,215.7 1158.0,214.5 1166.4,215.0 1166.6,219.5 1167.0,215.0 1195.0,215.0 1195.0,229.0 1197.0,229.0 1197.0,216.2 1254.0,216.2 1256.0,214.0 1260.0,214.0 1261.0,216.0 1261.0,263.1 1261.5,216.2 1262.5,226.0 1263.0,216.2 1286.0,216.2 1288.0,214.8 1290.0,216.2 1294.0,216.2 1295.0,215.0 1383.2,215.0 1383.2,530.6 1384.0,536.5 1386.5,536.5 1387.3,530.0 1387.3,194.3 1388.0,200.0" fill="none" stroke="#6b6bff" stroke-width="2.0" stroke-linejoin="miter" stroke-linecap="square"/>
<polyline points="1410.0,215.6 1410.0,216.3 1412.0,215.0 1414.0,216.9 1416.0,215.7 1418.0,215.6 1420.0,212.1 1422.0,211.3 1424.0,209.6 1426.0,211.1 1428.0,210.1 1430.0,211.2 1431.3,546.9 1443.0,546.9 1443.2,539.5 1443.5,546.9 1446.0,546.9 1446.0,515.7 1447.6,515.7 1447.6,230.5 1449.0,224.6 1450.5,209.7 1453.6,202.3 1458.0,200.8 1459.5,200.8 1459.5,545.4 1461.0,545.4 1461.0,295.9 1461.5,545.4 1462.5,545.4 1462.5,447.4 1463.0,545.4 1468.4,545.4 1468.4,373.0 1469.0,545.4 1471.4,545.4 1471.4,221.6 1472.2,545.4 1472.9,545.4 1472.9,285.5 1473.5,545.4 1496.0,545.4 1497.0,547.0 1498.0,545.4 1520.4,545.4 1520.4,324.0 1521.0,545.4 1525.0,545.4 1525.0,233.5 1526.4,233.5" fill="none" stroke="#6b6bff" stroke-width="2.0" stroke-linejoin="miter" stroke-linecap="square"/>
<polygon points="1073.0,194.6 1074.5,194.6 1074.5,195.2 1076.0,195.2 1076.0,197.1 1077.5,197.1 1077.5,197.5 1079.0,197.5 1079.0,199.2 1080.5,199.2 1080.5,200.8 1082.0,200.8 1082.0,200.5 1083.5,200.5 1083.5,200.8 1085.0,200.8 1085.0,202.3 1086.5,202.3 1086.5,201.7 1088.0,201.7 1088.0,203.5 1089.5,203.5 1089.5,205.5 1091.0,205.5 1091.0,205.3 1092.5,205.3 1092.5,205.5 1094.0,205.5 1094.0,207.7 1095.5,207.7 1095.5,208.4 1096.0,208.4 1096.0,213.6 1095.5,213.6 1095.5,212.8 1094.0,212.8 1094.0,211.1 1092.5,211.1 1092.5,209.8 1091.0,209.8 1091.0,209.5 1089.5,209.5 1089.5,209.4 1088.0,209.4 1088.0,210.0 1086.5,210.0 1086.5,208.2 1085.0,208.2 1085.0,207.9 1083.5,207.9 1083.5,207.0 1082.0,207.0 1082.0,206.9 1080.5,206.9 1080.5,205.9 1079.0,205.9 1079.0,205.1 1077.5,205.1 1077.5,204.2 1076.0,204.2 1076.0,202.4 1074.5,202.4 1074.5,201.5 1073.0,201.5" fill="#6b6bff"/>
<polygon points="1388.0,197.0 1389.5,197.0 1389.5,201.6 1391.0,201.6 1391.0,202.7 1392.5,202.7 1392.5,203.3 1394.0,203.3 1394.0,204.3 1395.5,204.3 1395.5,205.7 1397.0,205.7 1397.0,207.9 1398.5,207.9 1398.5,208.8 1400.0,208.8 1400.0,209.2 1401.5,209.2 1401.5,209.4 1403.0,209.4 1403.0,211.0 1404.5,211.0 1404.5,210.4 1406.0,210.4 1406.0,210.7 1407.5,210.7 1407.5,211.0 1409.0,211.0 1409.0,211.6 1410.0,211.6 1410.0,219.7 1409.0,219.7 1409.0,219.5 1407.5,219.5 1407.5,219.7 1406.0,219.7 1406.0,218.8 1404.5,218.8 1404.5,217.5 1403.0,217.5 1403.0,217.8 1401.5,217.8 1401.5,216.2 1400.0,216.2 1400.0,217.5 1398.5,217.5 1398.5,216.5 1397.0,216.5 1397.0,213.7 1395.5,213.7 1395.5,212.1 1394.0,212.1 1394.0,210.8 1392.5,210.8 1392.5,208.8 1391.0,208.8 1391.0,209.1 1389.5,209.1 1389.5,204.7 1388.0,204.7" fill="#6b6bff"/>
<polygon points="1526.4,233.5 1530.0,236.0 1532.0,239.4 1534.5,235.0 1536.0,228.0 1538.3,226.0 1538.3,414.7 1526.4,414.7" fill="#6b6bff"/>
<polyline points="1527.8,414.0 1527.8,489.0" fill="none" stroke="#6b6bff" stroke-width="2" stroke-linejoin="miter" stroke-linecap="square"/>
<polyline points="1537.4,414.0 1537.4,515.7" fill="none" stroke="#6b6bff" stroke-width="2" stroke-linejoin="miter" stroke-linecap="square"/>
<polyline points="1538.3,226.0 1539.7,542.4" fill="none" stroke="#6b6bff" stroke-width="2" stroke-linejoin="miter" stroke-linecap="square"/>
<polygon points="1539.7,220.6 1540.9,220.6 1540.9,219.5 1542.1,219.5 1542.1,219.0 1543.3,219.0 1543.3,218.0 1544.5,218.0 1544.5,218.0 1545.7,218.0 1545.7,217.3 1546.9,217.3 1546.9,217.1 1548.1,217.1 1548.1,215.0 1549.3,215.0 1549.3,214.8 1550.5,214.8 1550.5,214.6 1551.7,214.6 1551.7,213.0 1552.9,213.0 1552.9,212.8 1554.1,212.8 1554.1,211.7 1555.3,211.7 1555.3,211.9 1556.5,211.9 1556.5,211.9 1557.7,211.9 1557.7,212.1 1558.9,212.1 1558.9,211.4 1560.1,211.4 1560.1,210.8 1561.3,210.8 1561.3,210.3 1562.5,210.3 1562.5,211.0 1563.7,211.0 1563.7,209.2 1564.9,209.2 1564.9,210.4 1566.1,210.4 1566.1,210.2 1567.3,210.2 1567.3,208.7 1568.5,208.7 1568.5,209.0 1569.7,209.0 1569.7,208.8 1570.9,208.8 1570.9,207.5 1572.1,207.5 1572.1,208.4 1573.3,208.4 1573.3,207.0 1574.5,207.0 1574.5,206.7 1575.7,206.7 1575.7,208.3 1576.9,208.3 1576.9,208.0 1578.1,208.0 1578.1,208.7 1579.3,208.7 1579.3,208.7 1580.5,208.7 1580.5,208.5 1581.7,208.5 1581.7,207.8 1582.9,207.8 1582.9,207.4 1584.1,207.4 1584.1,207.4 1585.3,207.4 1585.3,207.1 1586.5,207.1 1586.5,206.7 1587.7,206.7 1587.7,207.1 1588.9,207.1 1588.9,206.7 1590.1,206.7 1590.1,206.1 1591.3,206.1 1591.3,206.5 1592.5,206.5 1592.5,206.3 1593.7,206.3 1593.7,206.4 1594.9,206.4 1594.9,206.7 1596.1,206.7 1596.1,206.2 1597.3,206.2 1597.3,206.7 1598.5,206.7 1598.5,206.4 1599.7,206.4 1599.7,206.6 1600.0,206.6 1600.0,210.4 1599.7,210.4 1599.7,210.8 1598.5,210.8 1598.5,210.7 1597.3,210.7 1597.3,210.3 1596.1,210.3 1596.1,210.2 1594.9,210.2 1594.9,210.5 1593.7,210.5 1593.7,209.9 1592.5,209.9 1592.5,209.8 1591.3,209.8 1591.3,210.6 1590.1,210.6 1590.1,210.2 1588.9,210.2 1588.9,210.3 1587.7,210.3 1587.7,210.8 1586.5,210.8 1586.5,211.0 1585.3,211.0 1585.3,211.7 1584.1,211.7 1584.1,211.8 1582.9,211.8 1582.9,212.1 1581.7,212.1 1581.7,212.2 1580.5,212.2 1580.5,212.7 1579.3,212.7 1579.3,214.2 1578.1,214.2 1578.1,214.4 1576.9,214.4 1576.9,214.5 1575.7,214.5 1575.7,214.5 1574.5,214.5 1574.5,215.8 1573.3,215.8 1573.3,214.7 1572.1,214.7 1572.1,215.9 1570.9,215.9 1570.9,215.7 1569.7,215.7 1569.7,216.0 1568.5,216.0 1568.5,217.3 1567.3,217.3 1567.3,216.4 1566.1,216.4 1566.1,216.4 1564.9,216.4 1564.9,217.0 1563.7,217.0 1563.7,217.6 1562.5,217.6 1562.5,217.7 1561.3,217.7 1561.3,218.6 1560.1,218.6 1560.1,219.5 1558.9,219.5 1558.9,218.5 1557.7,218.5 1557.7,220.1 1556.5,220.1 1556.5,219.8 1555.3,219.8 1555.3,220.2 1554.1,220.2 1554.1,221.1 1552.9,221.1 1552.9,221.6 1551.7,221.6 1551.7,221.0 1550.5,221.0 1550.5,223.1 1549.3,223.1 1549.3,223.0 1548.1,223.0 1548.1,222.9 1546.9,222.9 1546.9,224.3 1545.7,224.3 1545.7,224.9 1544.5,224.9 1544.5,224.9 1543.3,224.9 1543.3,226.7 1542.1,226.7 1542.1,227.2 1540.9,227.2 1540.9,230.3 1539.7,230.3" fill="#6b6bff"/>
<polyline points="1598.0,208.6 1603.6,208.8 1615.5,212.7 1624.4,215.6 1707.0,215.6" fill="none" stroke="#6b6bff" stroke-width="2.0" stroke-linejoin="miter" stroke-linecap="square"/>
<polygon points="1913.0,410.4 1914.5,410.4 1914.5,409.3 1916.0,409.3 1916.0,409.7 1917.5,409.7 1917.5,409.3 1919.0,409.3 1919.0,409.4 1920.5,409.4 1920.5,407.9 1922.0,407.9 1922.0,408.1 1923.5,408.1 1923.5,408.2 1925.0,408.2 1925.0,408.8 1926.5,408.8 1926.5,406.6 1928.0,406.6 1928.0,408.2 1929.5,408.2 1929.5,407.6 1931.0,407.6 1931.0,407.8 1932.5,407.8 1932.5,406.8 1934.0,406.8 1934.0,405.8 1935.5,405.8 1935.5,407.1 1937.0,407.1 1937.0,406.0 1938.5,406.0 1938.5,408.2 1940.0,408.2 1940.0,406.4 1941.5,406.4 1941.5,408.2 1943.0,408.2 1943.0,407.2 1944.5,407.2 1944.5,407.7 1946.0,407.7 1946.0,409.4 1947.5,409.4 1947.5,408.9 1949.0,408.9 1949.0,408.4 1950.5,408.4 1950.5,407.7 1952.0,407.7 1952.0,407.7 1953.5,407.7 1953.5,409.4 1955.0,409.4 1955.0,408.7 1956.5,408.7 1956.5,408.6 1958.0,408.6 1958.0,409.8 1959.5,409.8 1959.5,408.9 1961.0,408.9 1961.0,410.2 1962.5,410.2 1962.5,408.3 1964.0,408.3 1964.0,408.1 1965.5,408.1 1965.5,409.5 1967.0,409.5 1967.0,409.5 1968.5,409.5 1968.5,409.3 1970.0,409.3 1970.0,410.5 1971.5,410.5 1971.5,410.5 1973.0,410.5 1973.0,410.0 1974.5,410.0 1974.5,408.8 1976.0,408.8 1976.0,409.7 1977.5,409.7 1977.5,410.3 1979.0,410.3 1979.0,416.9 1977.5,416.9 1977.5,417.8 1976.0,417.8 1976.0,417.0 1974.5,417.0 1974.5,417.5 1973.0,417.5 1973.0,416.2 1971.5,416.2 1971.5,418.1 1970.0,418.1 1970.0,415.9 1968.5,415.9 1968.5,417.5 1967.0,417.5 1967.0,417.5 1965.5,417.5 1965.5,416.0 1964.0,416.0 1964.0,417.0 1962.5,417.0 1962.5,416.4 1961.0,416.4 1961.0,417.0 1959.5,417.0 1959.5,417.5 1958.0,417.5 1958.0,415.5 1956.5,415.5 1956.5,416.5 1955.0,416.5 1955.0,415.6 1953.5,415.6 1953.5,417.0 1952.0,417.0 1952.0,417.4 1950.5,417.4 1950.5,417.0 1949.0,417.0 1949.0,415.7 1947.5,415.7 1947.5,415.3 1946.0,415.3 1946.0,414.8 1944.5,414.8 1944.5,414.5 1943.0,414.5 1943.0,415.7 1941.5,415.7 1941.5,415.1 1940.0,415.1 1940.0,415.0 1938.5,415.0 1938.5,415.4 1937.0,415.4 1937.0,413.5 1935.5,413.5 1935.5,415.1 1934.0,415.1 1934.0,414.5 1932.5,414.5 1932.5,413.9 1931.0,413.9 1931.0,415.8 1929.5,415.8 1929.5,414.4 1928.0,414.4 1928.0,414.8 1926.5,414.8 1926.5,414.0 1925.0,414.0 1925.0,416.6 1923.5,416.6 1923.5,415.4 1922.0,415.4 1922.0,414.9 1920.5,414.9 1920.5,416.5 1919.0,416.5 1919.0,416.7 1917.5,416.7 1917.5,415.3 1916.0,415.3 1916.0,416.9 1914.5,416.9 1914.5,415.7 1913.0,415.7" fill="#6b6bff"/>
<polyline points="1979.0,410.0 1979.0,549.6 1979.8,440.0" fill="none" stroke="#6b6bff" stroke-width="2.0" stroke-linejoin="miter" stroke-linecap="square"/>
<polygon points="1980.0,433.8 1981.2,433.8 1981.2,431.1 1982.4,431.1 1982.4,428.4 1983.6,428.4 1983.6,426.9 1984.8,426.9 1984.8,423.5 1986.0,423.5 1986.0,422.4 1987.2,422.4 1987.2,422.6 1988.4,422.6 1988.4,420.8 1989.6,420.8 1989.6,421.4 1990.8,421.4 1990.8,419.1 1992.0,419.1 1992.0,418.8 1993.2,418.8 1993.2,420.6 1994.4,420.6 1994.4,418.8 1995.0,418.8 1995.0,427.5 1994.4,427.5 1994.4,427.5 1993.2,427.5 1993.2,427.7 1992.0,427.7 1992.0,428.9 1990.8,428.9 1990.8,429.4 1989.6,429.4 1989.6,429.1 1988.4,429.1 1988.4,429.8 1987.2,429.8 1987.2,432.5 1986.0,432.5 1986.0,432.8 1984.8,432.8 1984.8,434.6 1983.6,434.6 1983.6,437.3 1982.4,437.3 1982.4,440.0 1981.2,440.0 1981.2,440.9 1980.0,440.9" fill="#6b6bff"/>
<polyline points="1995.0,424.0 1995.0,484.8 1996.0,446.4" fill="none" stroke="#6b6bff" stroke-width="2.0" stroke-linejoin="miter" stroke-linecap="square"/>
<polygon points="1996.0,440.8 1997.5,440.8 1997.5,438.8 1999.0,438.8 1999.0,437.7 2000.5,437.7 2000.5,435.7 2002.0,435.7 2002.0,434.9 2003.5,434.9 2003.5,433.8 2005.0,433.8 2005.0,432.3 2006.5,432.3 2006.5,429.5 2008.0,429.5 2008.0,429.3 2009.5,429.3 2009.5,427.0 2011.0,427.0 2011.0,424.9 2012.5,424.9 2012.5,423.6 2014.0,423.6 2014.0,421.0 2015.5,421.0 2015.5,420.7 2017.0,420.7 2017.0,421.3 2018.5,421.3 2018.5,419.9 2020.0,419.9 2020.0,417.5 2021.5,417.5 2021.5,418.6 2023.0,418.6 2023.0,418.4 2024.5,418.4 2024.5,419.0 2026.0,419.0 2026.0,418.4 2027.5,418.4 2027.5,418.8 2029.0,418.8 2029.0,419.2 2030.5,419.2 2030.5,417.6 2032.0,417.6 2032.0,419.1 2033.5,419.1 2033.5,419.2 2035.0,419.2 2035.0,419.4 2036.5,419.4 2036.5,419.2 2038.0,419.2 2038.0,418.0 2039.5,418.0 2039.5,418.1 2041.0,418.1 2041.0,418.5 2042.5,418.5 2042.5,418.7 2044.0,418.7 2044.0,418.0 2045.5,418.0 2045.5,416.9 2047.0,416.9 2047.0,416.4 2048.5,416.4 2048.5,416.8 2050.0,416.8 2050.0,416.6 2051.5,416.6 2051.5,415.0 2053.0,415.0 2053.0,414.7 2054.5,414.7 2054.5,415.6 2056.0,415.6 2056.0,414.1 2057.5,414.1 2057.5,414.3 2059.0,414.3 2059.0,414.0 2060.5,414.0 2060.5,413.0 2062.0,413.0 2062.0,413.8 2063.5,413.8 2063.5,413.8 2065.0,413.8 2065.0,413.8 2066.5,413.8 2066.5,414.0 2068.0,414.0 2068.0,412.8 2069.5,412.8 2069.5,412.7 2071.0,412.7 2071.0,411.8 2072.5,411.8 2072.5,413.1 2074.0,413.1 2074.0,411.9 2075.5,411.9 2075.5,412.2 2077.0,412.2 2077.0,412.8 2078.5,412.8 2078.5,412.5 2080.0,412.5 2080.0,413.4 2081.5,413.4 2081.5,413.2 2083.0,413.2 2083.0,412.5 2084.5,412.5 2084.5,413.4 2086.0,413.4 2086.0,413.6 2087.5,413.6 2087.5,411.9 2089.0,411.9 2089.0,411.3 2090.5,411.3 2090.5,413.7 2092.0,413.7 2092.0,412.6 2093.5,412.6 2093.5,411.6 2095.0,411.6 2095.0,413.5 2096.5,413.5 2096.5,411.6 2098.0,411.6 2098.0,412.9 2099.5,412.9 2099.5,412.6 2101.0,412.6 2101.0,411.6 2102.5,411.6 2102.5,410.9 2104.0,410.9 2104.0,411.0 2105.5,411.0 2105.5,412.7 2107.0,412.7 2107.0,411.1 2108.5,411.1 2108.5,412.0 2110.0,412.0 2110.0,411.3 2111.5,411.3 2111.5,410.8 2113.0,410.8 2113.0,411.4 2114.5,411.4 2114.5,411.1 2116.0,411.1 2116.0,410.2 2117.5,410.2 2117.5,409.1 2119.0,409.1 2119.0,410.0 2120.5,410.0 2120.5,410.6 2122.0,410.6 2122.0,411.0 2123.5,411.0 2123.5,410.4 2125.0,410.4 2125.0,410.7 2126.5,410.7 2126.5,411.4 2128.0,411.4 2128.0,410.6 2129.5,410.6 2129.5,409.9 2131.0,409.9 2131.0,411.6 2132.5,411.6 2132.5,409.4 2134.0,409.4 2134.0,411.6 2135.5,411.6 2135.5,410.4 2137.0,410.4 2137.0,411.2 2138.5,411.2 2138.5,412.0 2140.0,412.0 2140.0,410.2 2141.5,410.2 2141.5,410.3 2143.0,410.3 2143.0,410.2 2144.5,410.2 2144.5,410.9 2146.0,410.9 2146.0,412.0 2147.5,412.0 2147.5,411.5 2149.0,411.5 2149.0,411.9 2150.5,411.9 2150.5,410.3 2152.0,410.3 2152.0,411.7 2153.5,411.7 2153.5,409.8 2155.0,409.8 2155.0,410.8 2156.5,410.8 2156.5,411.5 2158.0,411.5 2158.0,411.1 2159.5,411.1 2159.5,411.2 2161.0,411.2 2161.0,410.2 2162.5,410.2 2162.5,410.5 2164.0,410.5 2164.0,408.9 2165.5,408.9 2165.5,410.2 2167.0,410.2 2167.0,408.2 2168.5,408.2 2168.5,408.8 2170.0,408.8 2170.0,407.9 2171.5,407.9 2171.5,407.7 2173.0,407.7 2173.0,408.7 2174.5,408.7 2174.5,407.5 2176.0,407.5 2176.0,408.1 2177.5,408.1 2177.5,408.3 2179.0,408.3 2179.0,407.6 2180.5,407.6 2180.5,407.6 2182.0,407.6 2182.0,408.0 2183.5,408.0 2183.5,407.7 2185.0,407.7 2185.0,407.6 2186.5,407.6 2186.5,406.0 2188.0,406.0 2188.0,406.2 2189.5,406.2 2189.5,407.0 2191.0,407.0 2191.0,407.4 2192.5,407.4 2192.5,405.8 2194.0,405.8 2194.0,406.9 2195.5,406.9 2195.5,407.6 2197.0,407.6 2197.0,406.2 2198.5,406.2 2198.5,405.5 2200.0,405.5 2200.0,405.9 2201.5,405.9 2201.5,406.5 2203.0,406.5 2203.0,406.3 2204.5,406.3 2204.5,406.8 2206.0,406.8 2206.0,405.3 2207.5,405.3 2207.5,406.6 2209.0,406.6 2209.0,408.2 2210.5,408.2 2210.5,408.0 2212.0,408.0 2212.0,409.8 2213.5,409.8 2213.5,411.2 2215.0,411.2 2215.0,411.6 2216.5,411.6 2216.5,410.3 2218.0,410.3 2218.0,410.0 2219.5,410.0 2219.5,409.1 2221.0,409.1 2221.0,410.4 2222.5,410.4 2222.5,410.9 2224.0,410.9 2224.0,409.5 2225.5,409.5 2225.5,410.8 2227.0,410.8 2227.0,410.2 2228.5,410.2 2228.5,410.3 2230.0,410.3 2230.0,409.5 2231.5,409.5 2231.5,409.5 2233.0,409.5 2233.0,409.5 2234.5,409.5 2234.5,410.0 2236.0,410.0 2236.0,408.4 2237.5,408.4 2237.5,409.6 2239.0,409.6 2239.0,409.0 2240.5,409.0 2240.5,410.0 2242.0,410.0 2242.0,409.9 2243.5,409.9 2243.5,408.5 2245.0,408.5 2245.0,408.7 2246.5,408.7 2246.5,409.3 2248.0,409.3 2248.0,407.7 2249.5,407.7 2249.5,408.2 2251.0,408.2 2251.0,407.6 2252.5,407.6 2252.5,408.2 2254.0,408.2 2254.0,408.4 2255.5,408.4 2255.5,407.4 2257.0,407.4 2257.0,408.2 2258.5,408.2 2258.5,408.0 2260.0,408.0 2260.0,407.9 2261.5,407.9 2261.5,407.5 2263.0,407.5 2263.0,407.7 2264.5,407.7 2264.5,407.4 2266.0,407.4 2266.0,407.1 2267.5,407.1 2267.5,407.0 2269.0,407.0 2269.0,406.7 2270.5,406.7 2270.5,407.2 2272.0,407.2 2272.0,408.0 2273.5,408.0 2273.5,406.5 2275.0,406.5 2275.0,408.1 2276.5,408.1 2276.5,406.3 2278.0,406.3 2278.0,408.1 2279.5,408.1 2279.5,407.0 2281.0,407.0 2281.0,407.6 2282.5,407.6 2282.5,408.0 2284.0,408.0 2284.0,406.8 2285.5,406.8 2285.5,406.8 2287.0,406.8 2287.0,407.0 2288.5,407.0 2288.5,406.6 2290.0,406.6 2290.0,407.3 2291.5,407.3 2291.5,406.1 2293.0,406.1 2293.0,407.0 2294.5,407.0 2294.5,405.9 2296.0,405.9 2296.0,405.5 2297.5,405.5 2297.5,405.5 2299.0,405.5 2299.0,406.0 2300.5,406.0 2300.5,406.5 2302.0,406.5 2302.0,406.9 2303.5,406.9 2303.5,405.4 2305.0,405.4 2305.0,407.3 2306.5,407.3 2306.5,407.2 2308.0,407.2 2308.0,405.5 2309.5,405.5 2309.5,407.6 2311.0,407.6 2311.0,407.3 2312.5,407.3 2312.5,405.5 2314.0,405.5 2314.0,406.9 2315.5,406.9 2315.5,406.7 2317.0,406.7 2317.0,406.9 2318.5,406.9 2318.5,406.0 2318.7,406.0 2318.7,414.8 2318.5,414.8 2318.5,415.0 2317.0,415.0 2317.0,413.2 2315.5,413.2 2315.5,414.9 2314.0,414.9 2314.0,415.3 2312.5,415.3 2312.5,414.1 2311.0,414.1 2311.0,414.2 2309.5,414.2 2309.5,414.2 2308.0,414.2 2308.0,412.9 2306.5,412.9 2306.5,413.6 2305.0,413.6 2305.0,413.3 2303.5,413.3 2303.5,413.6 2302.0,413.6 2302.0,413.6 2300.5,413.6 2300.5,412.9 2299.0,412.9 2299.0,414.0 2297.5,414.0 2297.5,414.3 2296.0,414.3 2296.0,413.7 2294.5,413.7 2294.5,415.2 2293.0,415.2 2293.0,413.3 2291.5,413.3 2291.5,413.8 2290.0,413.8 2290.0,413.0 2288.5,413.0 2288.5,414.0 2287.0,414.0 2287.0,414.8 2285.5,414.8 2285.5,415.1 2284.0,415.1 2284.0,413.9 2282.5,413.9 2282.5,415.3 2281.0,415.3 2281.0,415.5 2279.5,415.5 2279.5,413.9 2278.0,413.9 2278.0,414.2 2276.5,414.2 2276.5,415.6 2275.0,415.6 2275.0,414.7 2273.5,414.7 2273.5,415.5 2272.0,415.5 2272.0,415.2 2270.5,415.2 2270.5,416.3 2269.0,416.3 2269.0,416.3 2267.5,416.3 2267.5,415.1 2266.0,415.1 2266.0,415.3 2264.5,415.3 2264.5,416.5 2263.0,416.5 2263.0,416.8 2261.5,416.8 2261.5,416.3 2260.0,416.3 2260.0,416.2 2258.5,416.2 2258.5,415.7 2257.0,415.7 2257.0,416.7 2255.5,416.7 2255.5,416.7 2254.0,416.7 2254.0,415.2 2252.5,415.2 2252.5,415.5 2251.0,415.5 2251.0,416.0 2249.5,416.0 2249.5,416.0 2248.0,416.0 2248.0,417.1 2246.5,417.1 2246.5,415.9 2245.0,415.9 2245.0,415.5 2243.5,415.5 2243.5,417.1 2242.0,417.1 2242.0,416.9 2240.5,416.9 2240.5,416.4 2239.0,416.4 2239.0,416.2 2237.5,416.2 2237.5,417.4 2236.0,417.4 2236.0,418.0 2234.5,418.0 2234.5,417.4 2233.0,417.4 2233.0,416.2 2231.5,416.2 2231.5,416.9 2230.0,416.9 2230.0,417.0 2228.5,417.0 2228.5,417.0 2227.0,417.0 2227.0,418.3 2225.5,418.3 2225.5,416.8 2224.0,416.8 2224.0,418.8 2222.5,418.8 2222.5,417.4 2221.0,417.4 2221.0,416.9 2219.5,416.9 2219.5,417.4 2218.0,417.4 2218.0,418.6 2216.5,418.6 2216.5,416.9 2215.0,416.9 2215.0,417.6 2213.5,417.6 2213.5,417.1 2212.0,417.1 2212.0,416.4 2210.5,416.4 2210.5,415.2 2209.0,415.2 2209.0,413.7 2207.5,413.7 2207.5,412.7 2206.0,412.7 2206.0,414.1 2204.5,414.1 2204.5,413.0 2203.0,413.0 2203.0,414.0 2201.5,414.0 2201.5,414.5 2200.0,414.5 2200.0,414.2 2198.5,414.2 2198.5,413.4 2197.0,413.4 2197.0,413.6 2195.5,413.6 2195.5,413.2 2194.0,413.2 2194.0,415.3 2192.5,415.3 2192.5,414.6 2191.0,414.6 2191.0,415.2 2189.5,415.2 2189.5,413.8 2188.0,413.8 2188.0,415.6 2186.5,415.6 2186.5,415.5 2185.0,415.5 2185.0,415.7 2183.5,415.7 2183.5,414.4 2182.0,414.4 2182.0,416.1 2180.5,416.1 2180.5,414.8 2179.0,414.8 2179.0,415.6 2177.5,415.6 2177.5,415.7 2176.0,415.7 2176.0,417.0 2174.5,417.0 2174.5,416.2 2173.0,416.2 2173.0,416.3 2171.5,416.3 2171.5,417.6 2170.0,417.6 2170.0,415.6 2168.5,415.6 2168.5,417.8 2167.0,417.8 2167.0,417.0 2165.5,417.0 2165.5,416.2 2164.0,416.2 2164.0,417.2 2162.5,417.2 2162.5,417.5 2161.0,417.5 2161.0,416.9 2159.5,416.9 2159.5,417.2 2158.0,417.2 2158.0,418.7 2156.5,418.7 2156.5,418.0 2155.0,418.0 2155.0,419.2 2153.5,419.2 2153.5,419.1 2152.0,419.1 2152.0,419.1 2150.5,419.1 2150.5,419.5 2149.0,419.5 2149.0,419.7 2147.5,419.7 2147.5,419.8 2146.0,419.8 2146.0,418.0 2144.5,418.0 2144.5,417.7 2143.0,417.7 2143.0,418.3 2141.5,418.3 2141.5,418.6 2140.0,418.6 2140.0,417.8 2138.5,417.8 2138.5,419.1 2137.0,419.1 2137.0,419.4 2135.5,419.4 2135.5,419.4 2134.0,419.4 2134.0,417.8 2132.5,417.8 2132.5,417.3 2131.0,417.3 2131.0,417.4 2129.5,417.4 2129.5,417.4 2128.0,417.4 2128.0,417.7 2126.5,417.7 2126.5,418.6 2125.0,418.6 2125.0,417.1 2123.5,417.1 2123.5,417.2 2122.0,417.2 2122.0,416.4 2120.5,416.4 2120.5,417.8 2119.0,417.8 2119.0,417.5 2117.5,417.5 2117.5,416.7 2116.0,416.7 2116.0,416.9 2114.5,416.9 2114.5,417.3 2113.0,417.3 2113.0,417.5 2111.5,417.5 2111.5,418.5 2110.0,418.5 2110.0,418.3 2108.5,418.3 2108.5,418.5 2107.0,418.5 2107.0,420.0 2105.5,420.0 2105.5,418.2 2104.0,418.2 2104.0,420.2 2102.5,420.2 2102.5,420.7 2101.0,420.7 2101.0,420.6 2099.5,420.6 2099.5,419.0 2098.0,419.0 2098.0,420.6 2096.5,420.6 2096.5,418.8 2095.0,418.8 2095.0,419.1 2093.5,419.1 2093.5,421.0 2092.0,421.0 2092.0,421.1 2090.5,421.1 2090.5,420.5 2089.0,420.5 2089.0,420.3 2087.5,420.3 2087.5,421.2 2086.0,421.2 2086.0,421.3 2084.5,421.3 2084.5,419.5 2083.0,419.5 2083.0,420.5 2081.5,420.5 2081.5,419.4 2080.0,419.4 2080.0,420.9 2078.5,420.9 2078.5,421.2 2077.0,421.2 2077.0,420.7 2075.5,420.7 2075.5,421.4 2074.0,421.4 2074.0,421.3 2072.5,421.3 2072.5,421.4 2071.0,421.4 2071.0,421.2 2069.5,421.2 2069.5,420.2 2068.0,420.2 2068.0,421.4 2066.5,421.4 2066.5,420.1 2065.0,420.1 2065.0,421.9 2063.5,421.9 2063.5,420.2 2062.0,420.2 2062.0,422.6 2060.5,422.6 2060.5,421.1 2059.0,421.1 2059.0,421.6 2057.5,421.6 2057.5,422.5 2056.0,422.5 2056.0,421.1 2054.5,421.1 2054.5,422.6 2053.0,422.6 2053.0,422.2 2051.5,422.2 2051.5,424.7 2050.0,424.7 2050.0,424.3 2048.5,424.3 2048.5,423.7 2047.0,423.7 2047.0,424.3 2045.5,424.3 2045.5,425.2 2044.0,425.2 2044.0,424.8 2042.5,424.8 2042.5,426.9 2041.0,426.9 2041.0,427.1 2039.5,427.1 2039.5,427.6 2038.0,427.6 2038.0,427.1 2036.5,427.1 2036.5,427.2 2035.0,427.2 2035.0,427.3 2033.5,427.3 2033.5,426.8 2032.0,426.8 2032.0,427.7 2030.5,427.7 2030.5,428.4 2029.0,428.4 2029.0,426.5 2027.5,426.5 2027.5,427.1 2026.0,427.1 2026.0,427.3 2024.5,427.3 2024.5,426.6 2023.0,426.6 2023.0,426.7 2021.5,426.7 2021.5,428.4 2020.0,428.4 2020.0,428.1 2018.5,428.1 2018.5,430.8 2017.0,430.8 2017.0,429.6 2015.5,429.6 2015.5,431.6 2014.0,431.6 2014.0,433.6 2012.5,433.6 2012.5,435.2 2011.0,435.2 2011.0,435.3 2009.5,435.3 2009.5,437.7 2008.0,437.7 2008.0,440.3 2006.5,440.3 2006.5,441.6 2005.0,441.6 2005.0,444.3 2003.5,444.3 2003.5,444.9 2002.0,444.9 2002.0,445.3 2000.5,445.3 2000.5,448.4 1999.0,448.4 1999.0,448.4 1997.5,448.4 1997.5,450.7 1996.0,450.7" fill="#6b6bff"/>
<polyline points="2082.8,414.0 2082.8,402.4" fill="none" stroke="#6b6bff" stroke-width="2" stroke-linejoin="miter" stroke-linecap="square"/>
<polyline points="2087.0,414.0 2087.0,408.0" fill="none" stroke="#6b6bff" stroke-width="2" stroke-linejoin="miter" stroke-linecap="square"/>
<polyline points="2149.1,416.0 2149.1,352.0" fill="none" stroke="#6b6bff" stroke-width="2" stroke-linejoin="miter" stroke-linecap="square"/>
<rect x="2148.5" y="401.0" width="3.0" height="17.0" fill="#6b6bff"/>
<polygon points="2318.7,303.8 2323.8,303.8 2323.8,297.9 2328.0,297.9 2328.0,292.0 2334.7,292.0 2334.7,282.0 2336.3,282.0 2336.3,302.1 2337.2,302.1 2337.2,320.5 2333.8,320.5 2333.8,322.2 2328.8,322.2 2328.8,331.4 2320.4,331.4 2320.4,333.9 2318.7,333.9" fill="#6b6bff"/>
<polyline points="2319.1,333.9 2319.1,407.6" fill="none" stroke="#6b6bff" stroke-width="2" stroke-linejoin="miter" stroke-linecap="square"/>
<polyline points="2336.7,320.5 2336.7,415.2" fill="none" stroke="#6b6bff" stroke-width="2.5" stroke-linejoin="miter" stroke-linecap="square"/>
<polyline points="2334.2,320.5 2334.2,327.2" fill="none" stroke="#ffffff" stroke-width="1.2" stroke-linejoin="miter" stroke-linecap="square"/>
<polygon points="2336.7,411.2 2337.9,411.2 2337.9,410.9 2339.1,410.9 2339.1,410.9 2340.3,410.9 2340.3,410.9 2341.5,410.9 2341.5,411.8 2342.7,411.8 2342.7,411.7 2343.9,411.7 2343.9,412.0 2345.1,412.0 2345.1,411.5 2346.3,411.5 2346.3,412.4 2347.2,412.4 2347.2,416.1 2346.3,416.1 2346.3,416.9 2345.1,416.9 2345.1,416.6 2343.9,416.6 2343.9,416.0 2342.7,416.0 2342.7,415.8 2341.5,415.8 2341.5,416.1 2340.3,416.1 2340.3,415.9 2339.1,415.9 2339.1,416.5 2337.9,416.5 2337.9,416.0 2336.7,416.0" fill="#6b6bff"/>
<polygon points="2346.4,273.6 2349.7,273.6 2349.7,297.1 2352.2,297.1 2352.2,305.4 2354.8,305.4 2354.8,237.6 2357.3,237.6 2357.3,244.3 2358.6,244.3 2358.6,292.0 2359.8,292.0 2359.8,284.5 2361.5,284.5 2361.5,302.9 2367.3,302.9 2367.3,302.1 2374.0,302.1 2374.0,302.4 2385.8,302.4 2385.8,308.8 2390.8,308.8 2390.8,298.7 2397.5,298.7 2397.5,294.6 2410.9,294.6 2410.9,300.4 2415.9,300.4 2415.9,304.6 2420.1,304.6 2420.1,331.4 2414.2,331.4 2414.2,330.6 2407.5,330.6 2407.5,324.7 2397.5,324.7 2397.5,328.9 2392.5,328.9 2392.5,337.3 2385.8,337.3 2385.8,329.7 2364.0,329.7 2364.0,330.6 2357.3,330.6 2357.3,332.2 2349.7,332.2 2349.7,331.4 2346.4,331.4" fill="#6b6bff"/>
<polyline points="2346.9,330.6 2346.9,415.2" fill="none" stroke="#6b6bff" stroke-width="2.5" stroke-linejoin="miter" stroke-linecap="square"/>
<polyline points="2358.9,330.6 2358.9,412.7" fill="none" stroke="#6b6bff" stroke-width="3" stroke-linejoin="miter" stroke-linecap="square"/>
<polyline points="2361.0,330.6 2361.0,400.9" fill="none" stroke="#6b6bff" stroke-width="2" stroke-linejoin="miter" stroke-linecap="square"/>
<polyline points="2408.4,327.2 2408.4,417.7" fill="none" stroke="#6b6bff" stroke-width="2" stroke-linejoin="miter" stroke-linecap="square"/>
<polygon points="2414.2,304.6 2418.4,304.6 2418.4,310.5 2420.1,310.5 2420.1,320.5 2422.3,320.5 2422.3,320.5 2424.3,320.5 2424.3,287.9 2428.0,287.9 2428.0,418.0 2414.2,418.0" fill="#6b6bff"/>
<rect x="2420.4" y="322.2" width="1.7" height="41.9" fill="#ffffff"/>
<polygon points="2427.6,411.4 2429.1,411.4 2429.1,411.0 2430.6,411.0 2430.6,412.2 2432.1,412.2 2432.1,411.6 2433.6,411.6 2433.6,411.2 2435.1,411.2 2435.1,412.5 2436.6,412.5 2436.6,411.5 2438.1,411.5 2438.1,411.5 2439.6,411.5 2439.6,411.1 2441.1,411.1 2441.1,411.7 2442.6,411.7 2442.6,413.5 2444.1,413.5 2444.1,413.5 2445.6,413.5 2445.6,412.9 2447.1,412.9 2447.1,413.4 2448.6,413.4 2448.6,411.8 2450.1,411.8 2450.1,413.5 2451.6,413.5 2451.6,411.8 2453.1,411.8 2453.1,412.1 2454.6,412.1 2454.6,413.0 2456.1,413.0 2456.1,413.3 2457.6,413.3 2457.6,412.8 2459.1,412.8 2459.1,412.9 2460.6,412.9 2460.6,411.9 2462.1,411.9 2462.1,412.3 2463.6,412.3 2463.6,413.6 2465.1,413.6 2465.1,411.6 2466.6,411.6 2466.6,411.9 2468.1,411.9 2468.1,412.1 2469.6,412.1 2469.6,411.5 2471.1,411.5 2471.1,413.2 2472.6,413.2 2472.6,412.9 2474.1,412.9 2474.1,412.6 2475.6,412.6 2475.6,410.8 2477.1,410.8 2477.1,412.8 2478.6,412.8 2478.6,410.7 2480.1,410.7 2480.1,410.8 2481.6,410.8 2481.6,411.4 2483.1,411.4 2483.1,412.2 2484.6,412.2 2484.6,411.0 2486.1,411.0 2486.1,410.8 2487.6,410.8 2487.6,410.5 2489.1,410.5 2489.1,409.7 2490.6,409.7 2490.6,409.9 2492.1,409.9 2492.1,410.2 2493.6,410.2 2493.6,410.3 2495.1,410.3 2495.1,409.3 2496.6,409.3 2496.6,408.9 2498.1,408.9 2498.1,410.5 2499.6,410.5 2499.6,408.6 2501.1,408.6 2501.1,408.3 2502.6,408.3 2502.6,409.1 2504.1,409.1 2504.1,408.0 2505.6,408.0 2505.6,409.2 2507.1,409.2 2507.1,408.6 2508.6,408.6 2508.6,407.7 2510.1,407.7 2510.1,407.3 2511.6,407.3 2511.6,407.8 2513.1,407.8 2513.1,406.7 2514.6,406.7 2514.6,406.3 2516.1,406.3 2516.1,407.1 2517.6,407.1 2517.6,408.4 2519.1,408.4 2519.1,412.2 2520.6,412.2 2520.6,414.2 2522.1,414.2 2522.1,412.0 2523.6,412.0 2523.6,409.3 2525.1,409.3 2525.1,408.6 2526.6,408.6 2526.6,409.3 2528.1,409.3 2528.1,408.9 2529.6,408.9 2529.6,408.9 2531.1,408.9 2531.1,408.8 2532.6,408.8 2532.6,409.2 2534.1,409.2 2534.1,409.6 2535.6,409.6 2535.6,409.1 2537.1,409.1 2537.1,408.6 2538.6,408.6 2538.6,409.1 2540.1,409.1 2540.1,409.5 2541.6,409.5 2541.6,407.9 2543.1,407.9 2543.1,408.2 2544.6,408.2 2544.6,407.6 2546.1,407.6 2546.1,408.7 2547.6,408.7 2547.6,407.6 2549.1,407.6 2549.1,408.2 2550.6,408.2 2550.6,407.5 2552.1,407.5 2552.1,408.9 2553.6,408.9 2553.6,408.9 2555.1,408.9 2555.1,408.4 2556.6,408.4 2556.6,407.5 2558.1,407.5 2558.1,408.1 2559.6,408.1 2559.6,406.8 2561.1,406.8 2561.1,406.9 2562.6,406.9 2562.6,408.4 2564.1,408.4 2564.1,407.7 2565.6,407.7 2565.6,408.0 2567.1,408.0 2567.1,408.7 2568.6,408.7 2568.6,407.2 2570.1,407.2 2570.1,409.3 2571.6,409.3 2571.6,410.4 2573.1,410.4 2573.1,410.7 2574.6,410.7 2574.6,410.7 2576.1,410.7 2576.1,410.5 2577.6,410.5 2577.6,410.2 2579.1,410.2 2579.1,409.2 2580.6,409.2 2580.6,409.5 2582.1,409.5 2582.1,410.8 2583.6,410.8 2583.6,409.5 2585.1,409.5 2585.1,410.1 2586.6,410.1 2586.6,409.7 2588.1,409.7 2588.1,408.3 2589.6,408.3 2589.6,408.7 2591.1,408.7 2591.1,408.7 2592.6,408.7 2592.6,408.0 2594.1,408.0 2594.1,407.5 2595.0,407.5 2595.0,416.9 2594.1,416.9 2594.1,415.5 2592.6,415.5 2592.6,415.0 2591.1,415.0 2591.1,416.3 2589.6,416.3 2589.6,415.9 2588.1,415.9 2588.1,415.8 2586.6,415.8 2586.6,417.8 2585.1,417.8 2585.1,415.7 2583.6,415.7 2583.6,416.5 2582.1,416.5 2582.1,416.6 2580.6,416.6 2580.6,417.5 2579.1,417.5 2579.1,416.8 2577.6,416.8 2577.6,417.0 2576.1,417.0 2576.1,416.9 2574.6,416.9 2574.6,416.8 2573.1,416.8 2573.1,418.0 2571.6,418.0 2571.6,415.9 2570.1,415.9 2570.1,414.7 2568.6,414.7 2568.6,414.9 2567.1,414.9 2567.1,414.5 2565.6,414.5 2565.6,413.7 2564.1,413.7 2564.1,415.5 2562.6,415.5 2562.6,413.9 2561.1,413.9 2561.1,414.7 2559.6,414.7 2559.6,415.0 2558.1,415.0 2558.1,414.5 2556.6,414.5 2556.6,415.9 2555.1,415.9 2555.1,415.0 2553.6,415.0 2553.6,415.6 2552.1,415.6 2552.1,415.4 2550.6,415.4 2550.6,414.6 2549.1,414.6 2549.1,414.8 2547.6,414.8 2547.6,414.5 2546.1,414.5 2546.1,415.6 2544.6,415.6 2544.6,416.7 2543.1,416.7 2543.1,415.9 2541.6,415.9 2541.6,415.7 2540.1,415.7 2540.1,417.3 2538.6,417.3 2538.6,415.1 2537.1,415.1 2537.1,415.9 2535.6,415.9 2535.6,417.0 2534.1,417.0 2534.1,416.6 2532.6,416.6 2532.6,416.1 2531.1,416.1 2531.1,415.3 2529.6,415.3 2529.6,417.4 2528.1,417.4 2528.1,416.5 2526.6,416.5 2526.6,415.8 2525.1,415.8 2525.1,416.4 2523.6,416.4 2523.6,418.9 2522.1,418.9 2522.1,420.7 2520.6,420.7 2520.6,418.2 2519.1,418.2 2519.1,417.6 2517.6,417.6 2517.6,415.6 2516.1,415.6 2516.1,414.9 2514.6,414.9 2514.6,414.1 2513.1,414.1 2513.1,415.9 2511.6,415.9 2511.6,415.9 2510.1,415.9 2510.1,414.8 2508.6,414.8 2508.6,415.7 2507.1,415.7 2507.1,417.2 2505.6,417.2 2505.6,415.7 2504.1,415.7 2504.1,415.8 2502.6,415.8 2502.6,415.8 2501.1,415.8 2501.1,416.5 2499.6,416.5 2499.6,417.5 2498.1,417.5 2498.1,417.5 2496.6,417.5 2496.6,416.2 2495.1,416.2 2495.1,418.0 2493.6,418.0 2493.6,417.4 2492.1,417.4 2492.1,417.0 2490.6,417.0 2490.6,417.1 2489.1,417.1 2489.1,417.7 2487.6,417.7 2487.6,417.5 2486.1,417.5 2486.1,418.7 2484.6,418.7 2484.6,418.3 2483.1,418.3 2483.1,418.4 2481.6,418.4 2481.6,418.3 2480.1,418.3 2480.1,418.1 2478.6,418.1 2478.6,418.9 2477.1,418.9 2477.1,419.4 2475.6,419.4 2475.6,418.3 2474.1,418.3 2474.1,420.4 2472.6,420.4 2472.6,419.8 2471.1,419.8 2471.1,420.3 2469.6,420.3 2469.6,419.0 2468.1,419.0 2468.1,419.2 2466.6,419.2 2466.6,419.8 2465.1,419.8 2465.1,419.7 2463.6,419.7 2463.6,420.2 2462.1,420.2 2462.1,421.0 2460.6,421.0 2460.6,421.0 2459.1,421.0 2459.1,421.6 2457.6,421.6 2457.6,419.9 2456.1,419.9 2456.1,420.1 2454.6,420.1 2454.6,421.4 2453.1,421.4 2453.1,420.3 2451.6,420.3 2451.6,419.1 2450.1,419.1 2450.1,419.1 2448.6,419.1 2448.6,418.9 2447.1,418.9 2447.1,419.1 2445.6,419.1 2445.6,419.2 2444.1,419.2 2444.1,420.2 2442.6,420.2 2442.6,419.4 2441.1,419.4 2441.1,418.4 2439.6,418.4 2439.6,419.2 2438.1,419.2 2438.1,419.6 2436.6,419.6 2436.6,419.0 2435.1,419.0 2435.1,420.3 2433.6,420.3 2433.6,419.8 2432.1,419.8 2432.1,420.2 2430.6,420.2 2430.6,419.9 2429.1,419.9 2429.1,419.5 2427.6,419.5" fill="#6b6bff"/>
<polygon points="137.0,1056.0 138.5,1056.0 138.5,1056.2 140.0,1056.2 140.0,1055.9 141.5,1055.9 141.5,1055.9 143.0,1055.9 143.0,1055.8 144.5,1055.8 144.5,1055.8 146.0,1055.8 146.0,1055.7 147.5,1055.7 147.5,1056.2 149.0,1056.2 149.0,1055.8 150.5,1055.8 150.5,1055.8 152.0,1055.8 152.0,1056.3 153.5,1056.3 153.5,1056.3 155.0,1056.3 155.0,1055.7 156.5,1055.7 156.5,1055.8 158.0,1055.8 158.0,1056.2 159.5,1056.2 159.5,1056.2 161.0,1056.2 161.0,1055.8 162.5,1055.8 162.5,1056.3 164.0,1056.3 164.0,1055.9 165.5,1055.9 165.5,1056.2 167.0,1056.2 167.0,1055.7 168.5,1055.7 168.5,1056.2 170.0,1056.2 170.0,1056.0 171.5,1056.0 171.5,1056.0 173.0,1056.0 173.0,1056.3 174.5,1056.3 174.5,1056.0 176.0,1056.0 176.0,1056.0 177.5,1056.0 177.5,1055.9 179.0,1055.9 179.0,1055.8 180.5,1055.8 180.5,1056.2 182.0,1056.2 182.0,1056.1 183.5,1056.1 183.5,1055.1 185.0,1055.1 185.0,1055.2 186.5,1055.2 186.5,1054.8 188.0,1054.8 188.0,1054.2 189.5,1054.2 189.5,1054.3 191.0,1054.3 191.0,1054.1 192.5,1054.1 192.5,1054.5 194.0,1054.5 194.0,1054.4 195.5,1054.4 195.5,1054.9 197.0,1054.9 197.0,1054.8 198.5,1054.8 198.5,1055.6 200.0,1055.6 200.0,1055.8 201.5,1055.8 201.5,1056.0 202.5,1056.0 202.5,1060.1 201.5,1060.1 201.5,1059.8 200.0,1059.8 200.0,1059.4 198.5,1059.4 198.5,1058.9 197.0,1058.9 197.0,1058.7 195.5,1058.7 195.5,1058.6 194.0,1058.6 194.0,1058.2 192.5,1058.2 192.5,1058.6 191.0,1058.6 191.0,1058.2 189.5,1058.2 189.5,1058.4 188.0,1058.4 188.0,1058.7 186.5,1058.7 186.5,1059.0 185.0,1059.0 185.0,1059.4 183.5,1059.4 183.5,1059.9 182.0,1059.9 182.0,1059.5 180.5,1059.5 180.5,1059.7 179.0,1059.7 179.0,1060.1 177.5,1060.1 177.5,1060.0 176.0,1060.0 176.0,1060.0 174.5,1060.0 174.5,1059.6 173.0,1059.6 173.0,1059.8 171.5,1059.8 171.5,1060.0 170.0,1060.0 170.0,1060.0 168.5,1060.0 168.5,1059.7 167.0,1059.7 167.0,1060.1 165.5,1060.1 165.5,1059.9 164.0,1059.9 164.0,1059.7 162.5,1059.7 162.5,1060.2 161.0,1060.2 161.0,1060.1 159.5,1060.1 159.5,1060.0 158.0,1060.0 158.0,1060.0 156.5,1060.0 156.5,1059.7 155.0,1059.7 155.0,1060.1 153.5,1060.1 153.5,1060.0 152.0,1060.0 152.0,1059.9 150.5,1059.9 150.5,1059.6 149.0,1059.6 149.0,1059.6 147.5,1059.6 147.5,1059.8 146.0,1059.8 146.0,1060.0 144.5,1060.0 144.5,1059.9 143.0,1059.9 143.0,1059.8 141.5,1059.8 141.5,1060.0 140.0,1060.0 140.0,1060.1 138.5,1060.1 138.5,1059.7 137.0,1059.7" fill="#6b6bff"/>
<polyline points="202.5,1056.0 202.5,1185.0 203.5,1088.3" fill="none" stroke="#6b6bff" stroke-width="2.0" stroke-linejoin="miter" stroke-linecap="square"/>
<polygon points="203.5,1081.9 204.5,1081.9 204.5,1078.8 205.5,1078.8 205.5,1076.0 206.5,1076.0 206.5,1074.5 207.5,1074.5 207.5,1073.7 208.5,1073.7 208.5,1072.5 209.5,1072.5 209.5,1071.4 210.5,1071.4 210.5,1069.5 211.5,1069.5 211.5,1068.6 212.5,1068.6 212.5,1066.6 213.5,1066.6 213.5,1065.3 214.5,1065.3 214.5,1064.9 215.5,1064.9 215.5,1064.2 216.5,1064.2 216.5,1065.1 217.5,1065.1 217.5,1064.4 218.5,1064.4 218.5,1064.4 219.2,1064.4 219.2,1069.5 218.5,1069.5 218.5,1069.4 217.5,1069.4 217.5,1068.9 216.5,1068.9 216.5,1069.1 215.5,1069.1 215.5,1069.0 214.5,1069.0 214.5,1070.4 213.5,1070.4 213.5,1071.1 212.5,1071.1 212.5,1073.0 211.5,1073.0 211.5,1074.3 210.5,1074.3 210.5,1075.2 209.5,1075.2 209.5,1076.9 208.5,1076.9 208.5,1077.7 207.5,1077.7 207.5,1079.1 206.5,1079.1 206.5,1081.0 205.5,1081.0 205.5,1082.9 204.5,1082.9 204.5,1086.1 203.5,1086.1" fill="#6b6bff"/>
<polyline points="219.2,1066.0 219.2,1127.2 220.0,1096.0" fill="none" stroke="#6b6bff" stroke-width="2.0" stroke-linejoin="miter" stroke-linecap="square"/>
<polygon points="220.0,1090.3 221.5,1090.3 221.5,1086.5 223.0,1086.5 223.0,1083.4 224.5,1083.4 224.5,1081.0 226.0,1081.0 226.0,1078.8 227.5,1078.8 227.5,1075.9 229.0,1075.9 229.0,1074.6 230.5,1074.6 230.5,1073.8 232.0,1073.8 232.0,1072.6 233.5,1072.6 233.5,1072.1 235.0,1072.1 235.0,1071.0 236.5,1071.0 236.5,1070.3 238.0,1070.3 238.0,1070.1 239.5,1070.1 239.5,1069.7 241.0,1069.7 241.0,1069.5 242.5,1069.5 242.5,1068.4 244.0,1068.4 244.0,1067.8 245.5,1067.8 245.5,1067.9 247.0,1067.9 247.0,1066.9 248.5,1066.9 248.5,1066.2 250.0,1066.2 250.0,1065.7 251.5,1065.7 251.5,1065.1 253.0,1065.1 253.0,1065.2 254.5,1065.2 254.5,1065.3 256.0,1065.3 256.0,1064.5 257.5,1064.5 257.5,1064.5 259.0,1064.5 259.0,1064.6 260.5,1064.6 260.5,1063.7 262.0,1063.7 262.0,1064.2 263.5,1064.2 263.5,1063.4 265.0,1063.4 265.0,1063.2 266.5,1063.2 266.5,1062.9 268.0,1062.9 268.0,1063.5 269.5,1063.5 269.5,1063.4 271.0,1063.4 271.0,1063.2 272.5,1063.2 272.5,1063.2 274.0,1063.2 274.0,1062.8 275.5,1062.8 275.5,1063.1 277.0,1063.1 277.0,1062.2 278.5,1062.2 278.5,1062.3 280.0,1062.3 280.0,1062.0 281.5,1062.0 281.5,1062.4 283.0,1062.4 283.0,1062.2 284.5,1062.2 284.5,1061.9 286.0,1061.9 286.0,1061.7 287.5,1061.7 287.5,1061.7 289.0,1061.7 289.0,1062.0 290.5,1062.0 290.5,1061.8 292.0,1061.8 292.0,1061.6 293.5,1061.6 293.5,1061.5 295.0,1061.5 295.0,1061.6 296.5,1061.6 296.5,1061.6 298.0,1061.6 298.0,1061.0 299.5,1061.0 299.5,1060.9 301.0,1060.9 301.0,1061.1 302.5,1061.1 302.5,1061.6 304.0,1061.6 304.0,1061.4 305.5,1061.4 305.5,1061.4 307.0,1061.4 307.0,1061.5 308.5,1061.5 308.5,1061.0 310.0,1061.0 310.0,1061.0 311.5,1061.0 311.5,1060.6 313.0,1060.6 313.0,1060.8 314.5,1060.8 314.5,1061.0 316.0,1061.0 316.0,1060.9 317.5,1060.9 317.5,1060.4 319.0,1060.4 319.0,1060.4 320.5,1060.4 320.5,1060.4 322.0,1060.4 322.0,1060.3 323.5,1060.3 323.5,1060.3 325.0,1060.3 325.0,1059.9 326.5,1059.9 326.5,1060.0 328.0,1060.0 328.0,1059.8 329.5,1059.8 329.5,1059.7 331.0,1059.7 331.0,1059.7 332.5,1059.7 332.5,1059.5 334.0,1059.5 334.0,1058.9 335.5,1058.9 335.5,1058.8 337.0,1058.8 337.0,1058.6 338.5,1058.6 338.5,1058.6 340.0,1058.6 340.0,1058.1 341.5,1058.1 341.5,1058.3 343.0,1058.3 343.0,1058.2 344.5,1058.2 344.5,1058.1 346.0,1058.1 346.0,1058.3 347.5,1058.3 347.5,1057.9 349.0,1057.9 349.0,1057.8 350.5,1057.8 350.5,1058.2 352.0,1058.2 352.0,1057.6 353.5,1057.6 353.5,1057.4 355.0,1057.4 355.0,1057.2 356.5,1057.2 356.5,1057.3 358.0,1057.3 358.0,1057.6 359.5,1057.6 359.5,1057.4 361.0,1057.4 361.0,1057.4 362.5,1057.4 362.5,1057.4 364.0,1057.4 364.0,1056.9 365.5,1056.9 365.5,1057.2 367.0,1057.2 367.0,1056.8 368.5,1056.8 368.5,1057.0 370.0,1057.0 370.0,1057.0 371.5,1057.0 371.5,1056.8 373.0,1056.8 373.0,1056.9 374.5,1056.9 374.5,1056.7 376.0,1056.7 376.0,1057.0 377.5,1057.0 377.5,1056.5 379.0,1056.5 379.0,1057.0 380.5,1057.0 380.5,1056.6 382.0,1056.6 382.0,1056.4 383.5,1056.4 383.5,1056.7 385.0,1056.7 385.0,1057.0 386.5,1057.0 386.5,1056.4 388.0,1056.4 388.0,1056.7 389.5,1056.7 389.5,1056.4 391.0,1056.4 391.0,1056.4 392.5,1056.4 392.5,1056.8 394.0,1056.8 394.0,1056.6 395.5,1056.6 395.5,1056.5 397.0,1056.5 397.0,1056.4 398.5,1056.4 398.5,1056.7 400.0,1056.7 400.0,1056.3 401.5,1056.3 401.5,1056.4 403.0,1056.4 403.0,1056.5 404.5,1056.5 404.5,1056.0 406.0,1056.0 406.0,1056.1 407.5,1056.1 407.5,1056.2 409.0,1056.2 409.0,1056.2 410.5,1056.2 410.5,1055.7 412.0,1055.7 412.0,1056.2 413.5,1056.2 413.5,1056.1 415.0,1056.1 415.0,1055.9 416.5,1055.9 416.5,1055.7 418.0,1055.7 418.0,1055.4 419.5,1055.4 419.5,1055.6 421.0,1055.6 421.0,1055.4 422.5,1055.4 422.5,1055.9 424.0,1055.9 424.0,1055.9 425.5,1055.9 425.5,1055.4 427.0,1055.4 427.0,1055.4 428.5,1055.4 428.5,1055.6 430.0,1055.6 430.0,1055.2 431.5,1055.2 431.5,1055.5 433.0,1055.5 433.0,1055.4 434.5,1055.4 434.5,1055.0 436.0,1055.0 436.0,1055.2 437.5,1055.2 437.5,1055.4 439.0,1055.4 439.0,1054.8 440.5,1054.8 440.5,1055.5 442.0,1055.5 442.0,1055.3 443.5,1055.3 443.5,1055.0 445.0,1055.0 445.0,1055.3 446.5,1055.3 446.5,1055.0 448.0,1055.0 448.0,1054.9 449.5,1054.9 449.5,1054.8 451.0,1054.8 451.0,1054.9 452.5,1054.9 452.5,1054.7 454.0,1054.7 454.0,1055.1 455.5,1055.1 455.5,1055.2 457.0,1055.2 457.0,1054.9 458.5,1054.9 458.5,1055.2 460.0,1055.2 460.0,1054.7 461.5,1054.7 461.5,1054.7 463.0,1054.7 463.0,1054.5 464.5,1054.5 464.5,1054.4 466.0,1054.4 466.0,1054.5 467.5,1054.5 467.5,1054.9 469.0,1054.9 469.0,1055.1 470.5,1055.1 470.5,1055.0 472.0,1055.0 472.0,1055.0 473.5,1055.0 473.5,1054.9 475.0,1054.9 475.0,1054.8 476.5,1054.8 476.5,1054.8 478.0,1054.8 478.0,1054.5 479.5,1054.5 479.5,1054.8 481.0,1054.8 481.0,1054.4 482.5,1054.4 482.5,1054.5 484.0,1054.5 484.0,1054.3 485.5,1054.3 485.5,1054.3 487.0,1054.3 487.0,1054.2 488.5,1054.2 488.5,1053.3 490.0,1053.3 490.0,1054.0 491.5,1054.0 491.5,1053.5 493.0,1053.5 493.0,1054.2 494.5,1054.2 494.5,1054.4 496.0,1054.4 496.0,1054.0 497.5,1054.0 497.5,1053.4 499.0,1053.4 499.0,1053.7 500.5,1053.7 500.5,1053.6 502.0,1053.6 502.0,1053.0 503.5,1053.0 503.5,1053.6 505.0,1053.6 505.0,1052.7 506.5,1052.7 506.5,1052.9 508.0,1052.9 508.0,1053.8 509.5,1053.8 509.5,1053.1 511.0,1053.1 511.0,1053.2 512.5,1053.2 512.5,1052.5 514.0,1052.5 514.0,1053.5 515.5,1053.5 515.5,1053.0 517.0,1053.0 517.0,1052.7 518.5,1052.7 518.5,1052.3 520.0,1052.3 520.0,1053.7 521.5,1053.7 521.5,1053.5 523.0,1053.5 523.0,1053.0 524.5,1053.0 524.5,1053.3 526.0,1053.3 526.0,1053.6 527.5,1053.6 527.5,1053.2 529.0,1053.2 529.0,1052.8 530.5,1052.8 530.5,1053.4 532.0,1053.4 532.0,1052.8 533.5,1052.8 533.5,1052.2 535.0,1052.2 535.0,1051.9 536.5,1051.9 536.5,1051.6 538.0,1051.6 538.0,1052.4 539.5,1052.4 539.5,1052.9 541.0,1052.9 541.0,1052.1 542.5,1052.1 542.5,1052.8 542.7,1052.8 542.7,1056.8 542.5,1056.8 542.5,1057.2 541.0,1057.2 541.0,1057.5 539.5,1057.5 539.5,1056.7 538.0,1056.7 538.0,1056.8 536.5,1056.8 536.5,1056.8 535.0,1056.8 535.0,1056.5 533.5,1056.5 533.5,1057.3 532.0,1057.3 532.0,1056.8 530.5,1056.8 530.5,1057.3 529.0,1057.3 529.0,1056.9 527.5,1056.9 527.5,1057.9 526.0,1057.9 526.0,1057.7 524.5,1057.7 524.5,1057.9 523.0,1057.9 523.0,1058.3 521.5,1058.3 521.5,1057.9 520.0,1057.9 520.0,1058.2 518.5,1058.2 518.5,1056.9 517.0,1056.9 517.0,1057.4 515.5,1057.4 515.5,1058.0 514.0,1058.0 514.0,1057.9 512.5,1057.9 512.5,1057.9 511.0,1057.9 511.0,1057.6 509.5,1057.6 509.5,1057.7 508.0,1057.7 508.0,1057.4 506.5,1057.4 506.5,1057.2 505.0,1057.2 505.0,1057.9 503.5,1057.9 503.5,1058.6 502.0,1058.6 502.0,1057.8 500.5,1057.8 500.5,1058.3 499.0,1058.3 499.0,1058.3 497.5,1058.3 497.5,1058.8 496.0,1058.8 496.0,1058.0 494.5,1058.0 494.5,1058.6 493.0,1058.6 493.0,1058.8 491.5,1058.8 491.5,1057.9 490.0,1057.9 490.0,1058.4 488.5,1058.4 488.5,1059.3 487.0,1059.3 487.0,1058.0 485.5,1058.0 485.5,1058.8 484.0,1058.8 484.0,1058.1 482.5,1058.1 482.5,1059.2 481.0,1059.2 481.0,1058.2 479.5,1058.2 479.5,1058.3 478.0,1058.3 478.0,1058.1 476.5,1058.1 476.5,1058.3 475.0,1058.3 475.0,1058.8 473.5,1058.8 473.5,1058.4 472.0,1058.4 472.0,1058.6 470.5,1058.6 470.5,1058.7 469.0,1058.7 469.0,1058.5 467.5,1058.5 467.5,1058.4 466.0,1058.4 466.0,1058.5 464.5,1058.5 464.5,1058.8 463.0,1058.8 463.0,1058.7 461.5,1058.7 461.5,1058.4 460.0,1058.4 460.0,1058.6 458.5,1058.6 458.5,1058.3 457.0,1058.3 457.0,1058.3 455.5,1058.3 455.5,1058.4 454.0,1058.4 454.0,1058.3 452.5,1058.3 452.5,1058.5 451.0,1058.5 451.0,1058.8 449.5,1058.8 449.5,1058.6 448.0,1058.6 448.0,1058.5 446.5,1058.5 446.5,1058.8 445.0,1058.8 445.0,1059.1 443.5,1059.1 443.5,1058.5 442.0,1058.5 442.0,1059.1 440.5,1059.1 440.5,1058.9 439.0,1058.9 439.0,1058.9 437.5,1058.9 437.5,1059.1 436.0,1059.1 436.0,1059.2 434.5,1059.2 434.5,1059.2 433.0,1059.2 433.0,1059.4 431.5,1059.4 431.5,1059.3 430.0,1059.3 430.0,1059.3 428.5,1059.3 428.5,1059.1 427.0,1059.1 427.0,1059.6 425.5,1059.6 425.5,1059.7 424.0,1059.7 424.0,1059.3 422.5,1059.3 422.5,1059.1 421.0,1059.1 421.0,1059.3 419.5,1059.3 419.5,1059.9 418.0,1059.9 418.0,1059.3 416.5,1059.3 416.5,1059.3 415.0,1059.3 415.0,1060.0 413.5,1060.0 413.5,1059.8 412.0,1059.8 412.0,1060.1 410.5,1060.1 410.5,1059.5 409.0,1059.5 409.0,1059.5 407.5,1059.5 407.5,1060.3 406.0,1060.3 406.0,1060.0 404.5,1060.0 404.5,1060.2 403.0,1060.2 403.0,1060.2 401.5,1060.2 401.5,1060.4 400.0,1060.4 400.0,1060.3 398.5,1060.3 398.5,1060.3 397.0,1060.3 397.0,1060.2 395.5,1060.2 395.5,1060.2 394.0,1060.2 394.0,1060.5 392.5,1060.5 392.5,1060.2 391.0,1060.2 391.0,1060.3 389.5,1060.3 389.5,1060.2 388.0,1060.2 388.0,1060.8 386.5,1060.8 386.5,1060.3 385.0,1060.3 385.0,1060.8 383.5,1060.8 383.5,1060.3 382.0,1060.3 382.0,1060.7 380.5,1060.7 380.5,1060.9 379.0,1060.9 379.0,1060.3 377.5,1060.3 377.5,1060.8 376.0,1060.8 376.0,1060.1 374.5,1060.1 374.5,1060.6 373.0,1060.6 373.0,1060.9 371.5,1060.9 371.5,1060.6 370.0,1060.6 370.0,1060.9 368.5,1060.9 368.5,1060.7 367.0,1060.7 367.0,1061.1 365.5,1061.1 365.5,1060.8 364.0,1060.8 364.0,1060.7 362.5,1060.7 362.5,1061.0 361.0,1061.0 361.0,1061.0 359.5,1061.0 359.5,1061.2 358.0,1061.2 358.0,1061.3 356.5,1061.3 356.5,1061.5 355.0,1061.5 355.0,1061.3 353.5,1061.3 353.5,1061.9 352.0,1061.9 352.0,1062.0 350.5,1062.0 350.5,1061.3 349.0,1061.3 349.0,1062.1 347.5,1062.1 347.5,1062.2 346.0,1062.2 346.0,1062.0 344.5,1062.0 344.5,1062.2 343.0,1062.2 343.0,1062.4 341.5,1062.4 341.5,1062.5 340.0,1062.5 340.0,1062.4 338.5,1062.4 338.5,1062.4 337.0,1062.4 337.0,1062.5 335.5,1062.5 335.5,1062.8 334.0,1062.8 334.0,1062.8 332.5,1062.8 332.5,1063.3 331.0,1063.3 331.0,1063.4 329.5,1063.4 329.5,1063.6 328.0,1063.6 328.0,1063.2 326.5,1063.2 326.5,1063.9 325.0,1063.9 325.0,1063.6 323.5,1063.6 323.5,1063.9 322.0,1063.9 322.0,1063.8 320.5,1063.8 320.5,1064.1 319.0,1064.1 319.0,1064.1 317.5,1064.1 317.5,1064.1 316.0,1064.1 316.0,1064.8 314.5,1064.8 314.5,1064.4 313.0,1064.4 313.0,1065.1 311.5,1065.1 311.5,1065.1 310.0,1065.1 310.0,1064.9 308.5,1064.9 308.5,1064.6 307.0,1064.6 307.0,1065.0 305.5,1065.0 305.5,1065.5 304.0,1065.5 304.0,1064.9 302.5,1064.9 302.5,1065.0 301.0,1065.0 301.0,1065.8 299.5,1065.8 299.5,1065.9 298.0,1065.9 298.0,1065.5 296.5,1065.5 296.5,1065.7 295.0,1065.7 295.0,1066.3 293.5,1066.3 293.5,1065.8 292.0,1065.8 292.0,1066.2 290.5,1066.2 290.5,1066.5 289.0,1066.5 289.0,1065.9 287.5,1065.9 287.5,1066.3 286.0,1066.3 286.0,1066.7 284.5,1066.7 284.5,1066.9 283.0,1066.9 283.0,1066.8 281.5,1066.8 281.5,1067.1 280.0,1067.1 280.0,1067.3 278.5,1067.3 278.5,1066.7 277.0,1066.7 277.0,1067.4 275.5,1067.4 275.5,1066.8 274.0,1066.8 274.0,1067.3 272.5,1067.3 272.5,1067.6 271.0,1067.6 271.0,1067.6 269.5,1067.6 269.5,1067.3 268.0,1067.3 268.0,1067.7 266.5,1067.7 266.5,1067.4 265.0,1067.4 265.0,1068.4 263.5,1068.4 263.5,1068.3 262.0,1068.3 262.0,1068.5 260.5,1068.5 260.5,1068.8 259.0,1068.8 259.0,1068.8 257.5,1068.8 257.5,1068.8 256.0,1068.8 256.0,1069.7 254.5,1069.7 254.5,1069.8 253.0,1069.8 253.0,1069.7 251.5,1069.7 251.5,1070.4 250.0,1070.4 250.0,1070.4 248.5,1070.4 248.5,1071.7 247.0,1071.7 247.0,1072.2 245.5,1072.2 245.5,1072.6 244.0,1072.6 244.0,1072.9 242.5,1072.9 242.5,1073.9 241.0,1073.9 241.0,1073.7 239.5,1073.7 239.5,1074.5 238.0,1074.5 238.0,1075.0 236.5,1075.0 236.5,1075.4 235.0,1075.4 235.0,1076.0 233.5,1076.0 233.5,1077.5 232.0,1077.5 232.0,1077.9 230.5,1077.9 230.5,1079.3 229.0,1079.3 229.0,1080.4 227.5,1080.4 227.5,1082.7 226.0,1082.7 226.0,1085.4 224.5,1085.4 224.5,1088.2 223.0,1088.2 223.0,1090.6 221.5,1090.6 221.5,1094.5 220.0,1094.5" fill="#6b6bff"/>
<polyline points="278.6,1064.0 278.6,1057.9" fill="none" stroke="#6b6bff" stroke-width="2" stroke-linejoin="miter" stroke-linecap="square"/>
<polyline points="306.8,1062.0 306.8,1048.7" fill="none" stroke="#6b6bff" stroke-width="2" stroke-linejoin="miter" stroke-linecap="square"/>
<polyline points="310.6,1062.0 310.6,1056.4" fill="none" stroke="#6b6bff" stroke-width="2" stroke-linejoin="miter" stroke-linecap="square"/>
<polyline points="373.0,1058.0 373.0,997.0" fill="none" stroke="#6b6bff" stroke-width="2" stroke-linejoin="miter" stroke-linecap="square"/>
<rect x="372.0" y="1042.0" width="3.0" height="18.0" fill="#6b6bff"/>
<polygon points="542.3,948.6 543.7,948.6 543.7,953.6 546.5,953.6 546.5,947.7 551.9,947.7 551.9,940.4 554.7,940.4 554.7,938.1 557.9,938.1 557.9,928.5 559.7,928.5 559.7,944.5 561.5,944.5 561.5,966.0 558.3,966.0 558.3,966.0 553.8,966.0 553.8,973.3 550.1,973.3 550.1,979.2 546.5,979.2 546.5,976.9 542.3,976.9" fill="#6b6bff"/>
<polyline points="542.8,976.9 542.8,1051.0" fill="none" stroke="#6b6bff" stroke-width="2" stroke-linejoin="miter" stroke-linecap="square"/>
<polyline points="560.6,966.0 560.6,1048.2 566.6,1049.2 570.7,1048.2 570.7,968.7" fill="none" stroke="#6b6bff" stroke-width="2.4" stroke-linejoin="miter" stroke-linecap="square"/>
<polygon points="570.2,916.6 573.9,916.6 573.9,940.4 575.7,940.4 575.7,945.9 578.3,945.9 578.3,884.6 580.1,884.6 580.1,889.2 582.1,889.2 582.1,932.2 583.9,932.2 583.9,924.8 585.9,924.8 585.9,942.2 588.5,942.2 588.5,940.4 590.3,940.4 590.3,944.0 595.8,944.0 595.8,941.3 599.5,941.3 599.5,942.2 609.5,942.2 609.5,944.0 615.9,944.0 615.9,936.7 617.8,936.7 617.8,934.0 620.5,934.0 620.5,930.3 631.5,930.3 631.5,932.2 636.0,932.2 636.0,937.6 638.8,937.6 638.8,939.5 641.1,939.5 641.1,936.7 644.1,936.7 644.1,962.3 637.9,962.3 637.9,964.1 632.4,964.1 632.4,962.3 629.6,962.3 629.6,957.8 621.4,957.8 621.4,961.4 618.7,961.4 618.7,968.7 614.1,968.7 614.1,970.5 608.6,970.5 608.6,967.8 594.0,967.8 594.0,968.7 589.4,968.7 589.4,966.0 585.8,966.0 585.8,974.2 579.4,974.2 579.4,970.5 573.9,970.5 573.9,988.8 570.2,988.8" fill="#6b6bff"/>
<polyline points="572.0,970.5 572.0,988.8" fill="none" stroke="#6b6bff" stroke-width="3" stroke-linejoin="miter" stroke-linecap="square"/>
<polyline points="578.4,974.2 578.4,987.9" fill="none" stroke="#6b6bff" stroke-width="2.2" stroke-linejoin="miter" stroke-linecap="square"/>
<polygon points="580.3,970.5 585.6,970.5 585.6,988.8 580.3,988.8" fill="#6b6bff"/>
<polyline points="633.0,962.3 633.0,987.9" fill="none" stroke="#6b6bff" stroke-width="2" stroke-linejoin="miter" stroke-linecap="square"/>
<polyline points="579.0,970.0 579.0,1048.0" fill="none" stroke="#6b6bff" stroke-width="2.2" stroke-linejoin="miter" stroke-linecap="square"/>
<polyline points="584.5,966.0 584.5,1038.7" fill="none" stroke="#6b6bff" stroke-width="2.4" stroke-linejoin="miter" stroke-linecap="square"/>
<polyline points="632.8,962.0 632.8,1045.5" fill="none" stroke="#6b6bff" stroke-width="1.8" stroke-linejoin="miter" stroke-linecap="square"/>
<polygon points="638.0,958.0 646.0,958.0 646.0,956.0 648.8,956.0 648.8,924.4 651.8,924.4 651.8,1049.5 638.0,1049.5" fill="#6b6bff"/>
<rect x="644.6" y="962.0" width="1.6" height="34.0" fill="#ffffff"/>
<polygon points="651.6,1047.2 653.1,1047.2 653.1,1046.2 654.6,1046.2 654.6,1047.0 656.1,1047.0 656.1,1047.5 657.6,1047.5 657.6,1047.9 659.1,1047.9 659.1,1047.8 660.6,1047.8 660.6,1048.6 662.1,1048.6 662.1,1048.9 663.6,1048.9 663.6,1049.6 665.1,1049.6 665.1,1049.7 666.6,1049.7 666.6,1050.4 668.1,1050.4 668.1,1050.2 669.6,1050.2 669.6,1050.8 671.1,1050.8 671.1,1051.5 672.6,1051.5 672.6,1051.6 674.1,1051.6 674.1,1052.0 675.6,1052.0 675.6,1052.1 677.1,1052.1 677.1,1052.0 678.6,1052.0 678.6,1052.3 680.1,1052.3 680.1,1052.3 681.6,1052.3 681.6,1052.5 683.1,1052.5 683.1,1052.5 684.6,1052.5 684.6,1052.8 686.1,1052.8 686.1,1053.2 687.6,1053.2 687.6,1053.0 689.1,1053.0 689.1,1053.4 690.6,1053.4 690.6,1053.3 692.1,1053.3 692.1,1053.9 693.6,1053.9 693.6,1054.1 695.1,1054.1 695.1,1053.7 696.6,1053.7 696.6,1053.5 698.1,1053.5 698.1,1054.0 699.6,1054.0 699.6,1053.9 700.0,1053.9 700.0,1057.8 699.6,1057.8 699.6,1057.4 698.1,1057.4 698.1,1057.5 696.6,1057.5 696.6,1057.6 695.1,1057.6 695.1,1057.8 693.6,1057.8 693.6,1057.3 692.1,1057.3 692.1,1057.0 690.6,1057.0 690.6,1057.3 689.1,1057.3 689.1,1057.1 687.6,1057.1 687.6,1056.8 686.1,1056.8 686.1,1056.7 684.6,1056.7 684.6,1056.6 683.1,1056.6 683.1,1056.3 681.6,1056.3 681.6,1056.4 680.1,1056.4 680.1,1055.8 678.6,1055.8 678.6,1056.1 677.1,1056.1 677.1,1055.5 675.6,1055.5 675.6,1055.5 674.1,1055.5 674.1,1055.6 672.6,1055.6 672.6,1054.9 671.1,1054.9 671.1,1054.9 669.6,1054.9 669.6,1054.0 668.1,1054.0 668.1,1053.7 666.6,1053.7 666.6,1053.3 665.1,1053.3 665.1,1053.4 663.6,1053.4 663.6,1052.7 662.1,1052.7 662.1,1052.3 660.6,1052.3 660.6,1052.0 659.1,1052.0 659.1,1051.5 657.6,1051.5 657.6,1050.8 656.1,1050.8 656.1,1050.4 654.6,1050.4 654.6,1050.0 653.1,1050.0 653.1,1050.9 651.6,1050.9" fill="#6b6bff"/>
<polyline points="694.0,1055.7 819.0,1055.7" fill="none" stroke="#6b6bff" stroke-width="2.4" stroke-linejoin="miter" stroke-linecap="square"/>
<polyline points="654.8,1049.0 654.8,1040.0" fill="none" stroke="#6b6bff" stroke-width="2" stroke-linejoin="miter" stroke-linecap="square"/>
<polyline points="1025.0,831.1 1065.2,831.1 1065.2,1185.0 1068.9,1185.0 1068.9,840.0 1070.5,837.5" fill="none" stroke="#6b6bff" stroke-width="2.0" stroke-linejoin="miter" stroke-linecap="square"/>
<polygon points="1069.0,832.3 1070.5,832.3 1070.5,831.1 1072.0,831.1 1072.0,828.8 1073.5,828.8 1073.5,828.4 1075.0,828.4 1075.0,827.6 1076.5,827.6 1076.5,828.2 1078.0,828.2 1078.0,827.0 1079.5,827.0 1079.5,827.2 1081.0,827.2 1081.0,828.1 1082.5,828.1 1082.5,828.5 1084.0,828.5 1084.0,828.3 1085.5,828.3 1085.5,828.7 1087.0,828.7 1087.0,827.6 1088.5,827.6 1088.5,828.9 1090.0,828.9 1090.0,828.2 1091.5,828.2 1091.5,828.7 1093.0,828.7 1093.0,828.2 1094.5,828.2 1094.5,828.9 1096.0,828.9 1096.0,834.8 1094.5,834.8 1094.5,834.6 1093.0,834.6 1093.0,833.6 1091.5,833.6 1091.5,833.8 1090.0,833.8 1090.0,833.2 1088.5,833.2 1088.5,833.0 1087.0,833.0 1087.0,834.0 1085.5,834.0 1085.5,833.9 1084.0,833.9 1084.0,832.8 1082.5,832.8 1082.5,833.1 1081.0,833.1 1081.0,832.4 1079.5,832.4 1079.5,832.4 1078.0,832.4 1078.0,833.9 1076.5,833.9 1076.5,832.8 1075.0,832.8 1075.0,834.6 1073.5,834.6 1073.5,835.0 1072.0,835.0 1072.0,836.8 1070.5,836.8 1070.5,838.7 1069.0,838.7" fill="#6b6bff"/>
<polyline points="1096.0,831.5 1100.0,830.8 1104.0,836.8 1106.7,830.8 1116.0,830.8 1122.8,836.8 1129.5,832.8 1134.8,832.1 1136.2,830.8 1382.8,831.1 1382.8,1185.0 1389.1,1185.0 1389.1,847.5 1391.1,838.3 1392.4,829.0 1392.4,830.0 1417.5,830.5 1422.8,829.0 1426.8,835.0 1432.0,831.0 1436.7,835.0 1442.6,831.0 1449.2,831.0 1457.1,836.0 1465.0,836.0 1474.3,832.3 1634.0,832.3 1640.0,831.0 1676.0,831.0 1707.0,831.0" fill="none" stroke="#6b6bff" stroke-width="2.0" stroke-linejoin="miter" stroke-linecap="square"/>
<rect x="1025.0" y="830.0" width="15.0" height="4.5" fill="#6b6bff"/>
<polygon points="1069.0,833.4 1070.0,833.4 1070.0,832.8 1071.0,832.8 1071.0,832.1 1072.0,832.1 1072.0,830.6 1073.0,830.6 1073.0,829.8 1074.0,829.8 1074.0,829.7 1075.0,829.7 1075.0,835.1 1074.0,835.1 1074.0,835.9 1073.0,835.9 1073.0,836.1 1072.0,836.1 1072.0,837.0 1071.0,837.0 1071.0,838.0 1070.0,838.0 1070.0,838.3 1069.0,838.3" fill="#6b6bff"/>
<polygon points="1392.4,826.4 1393.6,826.4 1393.6,826.7 1394.8,826.7 1394.8,826.4 1396.0,826.4 1396.0,826.5 1397.2,826.5 1397.2,826.4 1398.4,826.4 1398.4,827.5 1399.6,827.5 1399.6,826.9 1400.8,826.9 1400.8,827.2 1402.0,827.2 1402.0,827.7 1403.2,827.7 1403.2,827.4 1404.4,827.4 1404.4,826.7 1405.6,826.7 1405.6,826.5 1406.8,826.5 1406.8,826.5 1408.0,826.5 1408.0,826.9 1409.2,826.9 1409.2,826.5 1410.4,826.5 1410.4,827.6 1411.6,827.6 1411.6,827.0 1412.8,827.0 1412.8,827.6 1414.0,827.6 1414.0,826.8 1415.2,826.8 1415.2,826.8 1416.4,826.8 1416.4,827.7 1417.5,827.7 1417.5,833.3 1416.4,833.3 1416.4,833.8 1415.2,833.8 1415.2,834.4 1414.0,834.4 1414.0,833.5 1412.8,833.5 1412.8,833.5 1411.6,833.5 1411.6,834.0 1410.4,834.0 1410.4,834.0 1409.2,834.0 1409.2,834.2 1408.0,834.2 1408.0,834.6 1406.8,834.6 1406.8,834.5 1405.6,834.5 1405.6,833.8 1404.4,833.8 1404.4,833.6 1403.2,833.6 1403.2,833.5 1402.0,833.5 1402.0,833.3 1400.8,833.3 1400.8,833.3 1399.6,833.3 1399.6,833.7 1398.4,833.7 1398.4,833.8 1397.2,833.8 1397.2,833.5 1396.0,833.5 1396.0,833.8 1394.8,833.8 1394.8,833.9 1393.6,833.9 1393.6,833.3 1392.4,833.3" fill="#6b6bff"/>
<rect x="1638.0" y="830.0" width="10.0" height="4.0" fill="#6b6bff"/>
<rect x="1657.0" y="830.0" width="18.0" height="4.0" fill="#6b6bff"/>
<polyline points="1916.0,1006.9 1952.3,1006.9" fill="none" stroke="#6b6bff" stroke-width="2.0" stroke-linejoin="miter" stroke-linecap="square"/>
<polyline points="1961.5,1006.9 2270.7,1006.9 2270.7,916.7 2272.9,916.7 2272.9,826.8 2277.4,826.8 2277.4,916.7 2279.0,916.7 2279.0,1006.9 2320.1,1006.9 2320.1,916.7 2346.0,916.7" fill="none" stroke="#6b6bff" stroke-width="2.0" stroke-linejoin="miter" stroke-linecap="square"/>
<polyline points="2340.0,1006.9 2346.0,1006.9 2346.0,916.7 2382.6,916.7 2382.6,1006.9 2416.8,1006.9 2416.8,1185.0" fill="none" stroke="#6b6bff" stroke-width="2.0" stroke-linejoin="miter" stroke-linecap="square"/>
<polyline points="2320.1,916.7 2333.8,916.7" fill="none" stroke="#6b6bff" stroke-width="2.0" stroke-linejoin="miter" stroke-linecap="square"/>
<rect x="2333.8" y="915.7" width="6.2" height="92.2" fill="#6b6bff"/>
<polyline points="2333.8,1006.9 2346.0,1006.9" fill="none" stroke="#6b6bff" stroke-width="2.0" stroke-linejoin="miter" stroke-linecap="square"/>
<polyline points="2359.8,916.7 2359.8,1006.9" fill="none" stroke="#6b6bff" stroke-width="2.0" stroke-linejoin="miter" stroke-linecap="square"/>
<polyline points="1952.6,1006.9 1952.6,916.7 1954.0,916.7" fill="none" stroke="#6b6bff" stroke-width="2.0" stroke-linejoin="miter" stroke-linecap="square"/>
<rect x="1953.5" y="825.8" width="5.0" height="91.9" fill="#6b6bff"/>
<polyline points="1958.0,916.7 1961.5,916.7 1961.5,1006.9" fill="none" stroke="#6b6bff" stroke-width="2.0" stroke-linejoin="miter" stroke-linecap="square"/>
<rect x="1916.0" y="1005.9" width="4.0" height="90.1" fill="#6b6bff"/>
<rect x="1926.0" y="1005.9" width="2.3" height="90.1" fill="#6b6bff"/>
<rect x="1930.0" y="1005.9" width="5.6" height="90.1" fill="#6b6bff"/>
<rect x="1948.0" y="1005.9" width="5.4" height="90.1" fill="#6b6bff"/>
<rect x="1960.0" y="1005.9" width="10.0" height="90.1" fill="#6b6bff"/>
<rect x="1972.0" y="1005.9" width="5.6" height="90.1" fill="#6b6bff"/>
<rect x="1980.0" y="1005.9" width="7.7" height="90.1" fill="#6b6bff"/>
<rect x="1990.0" y="1005.9" width="9.6" height="90.1" fill="#6b6bff"/>
<rect x="2002.0" y="1005.9" width="5.8" height="90.1" fill="#6b6bff"/>
<rect x="2010.0" y="1005.9" width="4.2" height="90.1" fill="#6b6bff"/>
<rect x="2016.0" y="1005.9" width="9.4" height="90.1" fill="#6b6bff"/>
<rect x="2041.8" y="1005.9" width="4.4" height="90.1" fill="#6b6bff"/>
<rect x="2060.1" y="1005.9" width="3.9" height="90.1" fill="#6b6bff"/>
<rect x="2131.9" y="1005.9" width="3.9" height="90.1" fill="#6b6bff"/>
<rect x="2151.7" y="1005.9" width="4.4" height="90.1" fill="#6b6bff"/>
<rect x="2279.0" y="1005.9" width="2.6" height="90.1" fill="#6b6bff"/>
<rect x="2300.3" y="1005.9" width="3.1" height="90.1" fill="#6b6bff"/>
<polyline points="1942.9,1006.9 1942.9,1095.0 1948.0,1095.0" fill="none" stroke="#6b6bff" stroke-width="2.0" stroke-linejoin="miter" stroke-linecap="square"/>
<polyline points="1935.6,1006.9 1942.9,1006.9" fill="none" stroke="#6b6bff" stroke-width="2.0" stroke-linejoin="miter" stroke-linecap="square"/>
<rect x="2014.2" y="1094.0" width="1.8" height="2.0" fill="#6b6bff"/>
<polyline points="2014.9,1008.9 2014.9,1089.0" fill="none" stroke="#e4e4ff" stroke-width="1.2" stroke-linejoin="miter" stroke-linecap="square"/>
<polyline points="2416.8,1185.0 2421.6,1185.0 2421.6,1006.9 2422.4,1006.9" fill="none" stroke="#6b6bff" stroke-width="1.8" stroke-linejoin="miter" stroke-linecap="square"/>
<polyline points="2424.0,1185.0 2424.0,1006.9 2429.6,1006.9 2429.6,1095.0" fill="none" stroke="#6b6bff" stroke-width="1.8" stroke-linejoin="miter" stroke-linecap="square"/>
<rect x="2422.4" y="1094.0" width="9.6" height="92.0" fill="#6b6bff"/>
<rect x="2434.4" y="1094.0" width="4.8" height="92.0" fill="#6b6bff"/>
<polyline points="2432.0,1095.0 2434.4,1095.0" fill="none" stroke="#6b6bff" stroke-width="2.0" stroke-linejoin="miter" stroke-linecap="square"/>
<polyline points="2439.2,1185.0 2452.8,1185.0 2452.8,1006.9" fill="none" stroke="#6b6bff" stroke-width="2.0" stroke-linejoin="miter" stroke-linecap="square"/>
<polyline points="2452.8,1006.9 2544.0,1006.9" fill="none" stroke="#6b6bff" stroke-width="2.0" stroke-linejoin="miter" stroke-linecap="square"/>
<rect x="2452.8" y="1005.9" width="3.2" height="90.1" fill="#6b6bff"/>
<rect x="2460.0" y="1005.9" width="9.6" height="90.1" fill="#6b6bff"/>
<rect x="2472.0" y="1005.9" width="17.6" height="90.1" fill="#6b6bff"/>
<rect x="2492.0" y="1005.9" width="18.4" height="90.1" fill="#6b6bff"/>
<rect x="2512.0" y="1005.9" width="2.4" height="90.1" fill="#6b6bff"/>
<rect x="2518.4" y="1005.9" width="3.2" height="90.1" fill="#6b6bff"/>
<rect x="2526.4" y="1005.9" width="5.6" height="90.1" fill="#6b6bff"/>
<rect x="2538.4" y="1005.9" width="1.6" height="90.1" fill="#6b6bff"/>
<rect x="2542.4" y="1005.9" width="1.6" height="90.1" fill="#6b6bff"/>
<polyline points="2456.0,1095.0 2460.0,1095.0" fill="none" stroke="#6b6bff" stroke-width="2.0" stroke-linejoin="miter" stroke-linecap="square"/>
<polyline points="2544.0,1095.0 2595.0,1095.0" fill="none" stroke="#6b6bff" stroke-width="2.0" stroke-linejoin="miter" stroke-linecap="square"/></g>
<rect x="800" y="155" width="19" height="430" fill="url(#hatch)"/>
<rect x="137" y="155" width="682" height="430" fill="none" stroke="#2a2a2a" stroke-width="2.2"/>
<rect x="1688" y="155" width="19" height="430" fill="url(#hatch)"/>
<rect x="1025" y="155" width="682" height="430" fill="none" stroke="#2a2a2a" stroke-width="2.2"/>
<rect x="2576" y="155" width="19" height="430" fill="url(#hatch)"/>
<rect x="1913" y="155" width="682" height="430" fill="none" stroke="#2a2a2a" stroke-width="2.2"/>
<rect x="800" y="791" width="19" height="430" fill="url(#hatch)"/>
<rect x="137" y="791" width="682" height="430" fill="none" stroke="#2a2a2a" stroke-width="2.2"/>
<rect x="1688" y="791" width="19" height="430" fill="url(#hatch)"/>
<rect x="1025" y="791" width="682" height="430" fill="none" stroke="#2a2a2a" stroke-width="2.2"/>
<rect x="2576" y="791" width="19" height="430" fill="url(#hatch)"/>
<rect x="1913" y="791" width="682" height="430" fill="none" stroke="#2a2a2a" stroke-width="2.2"/>
</svg></body></html>
